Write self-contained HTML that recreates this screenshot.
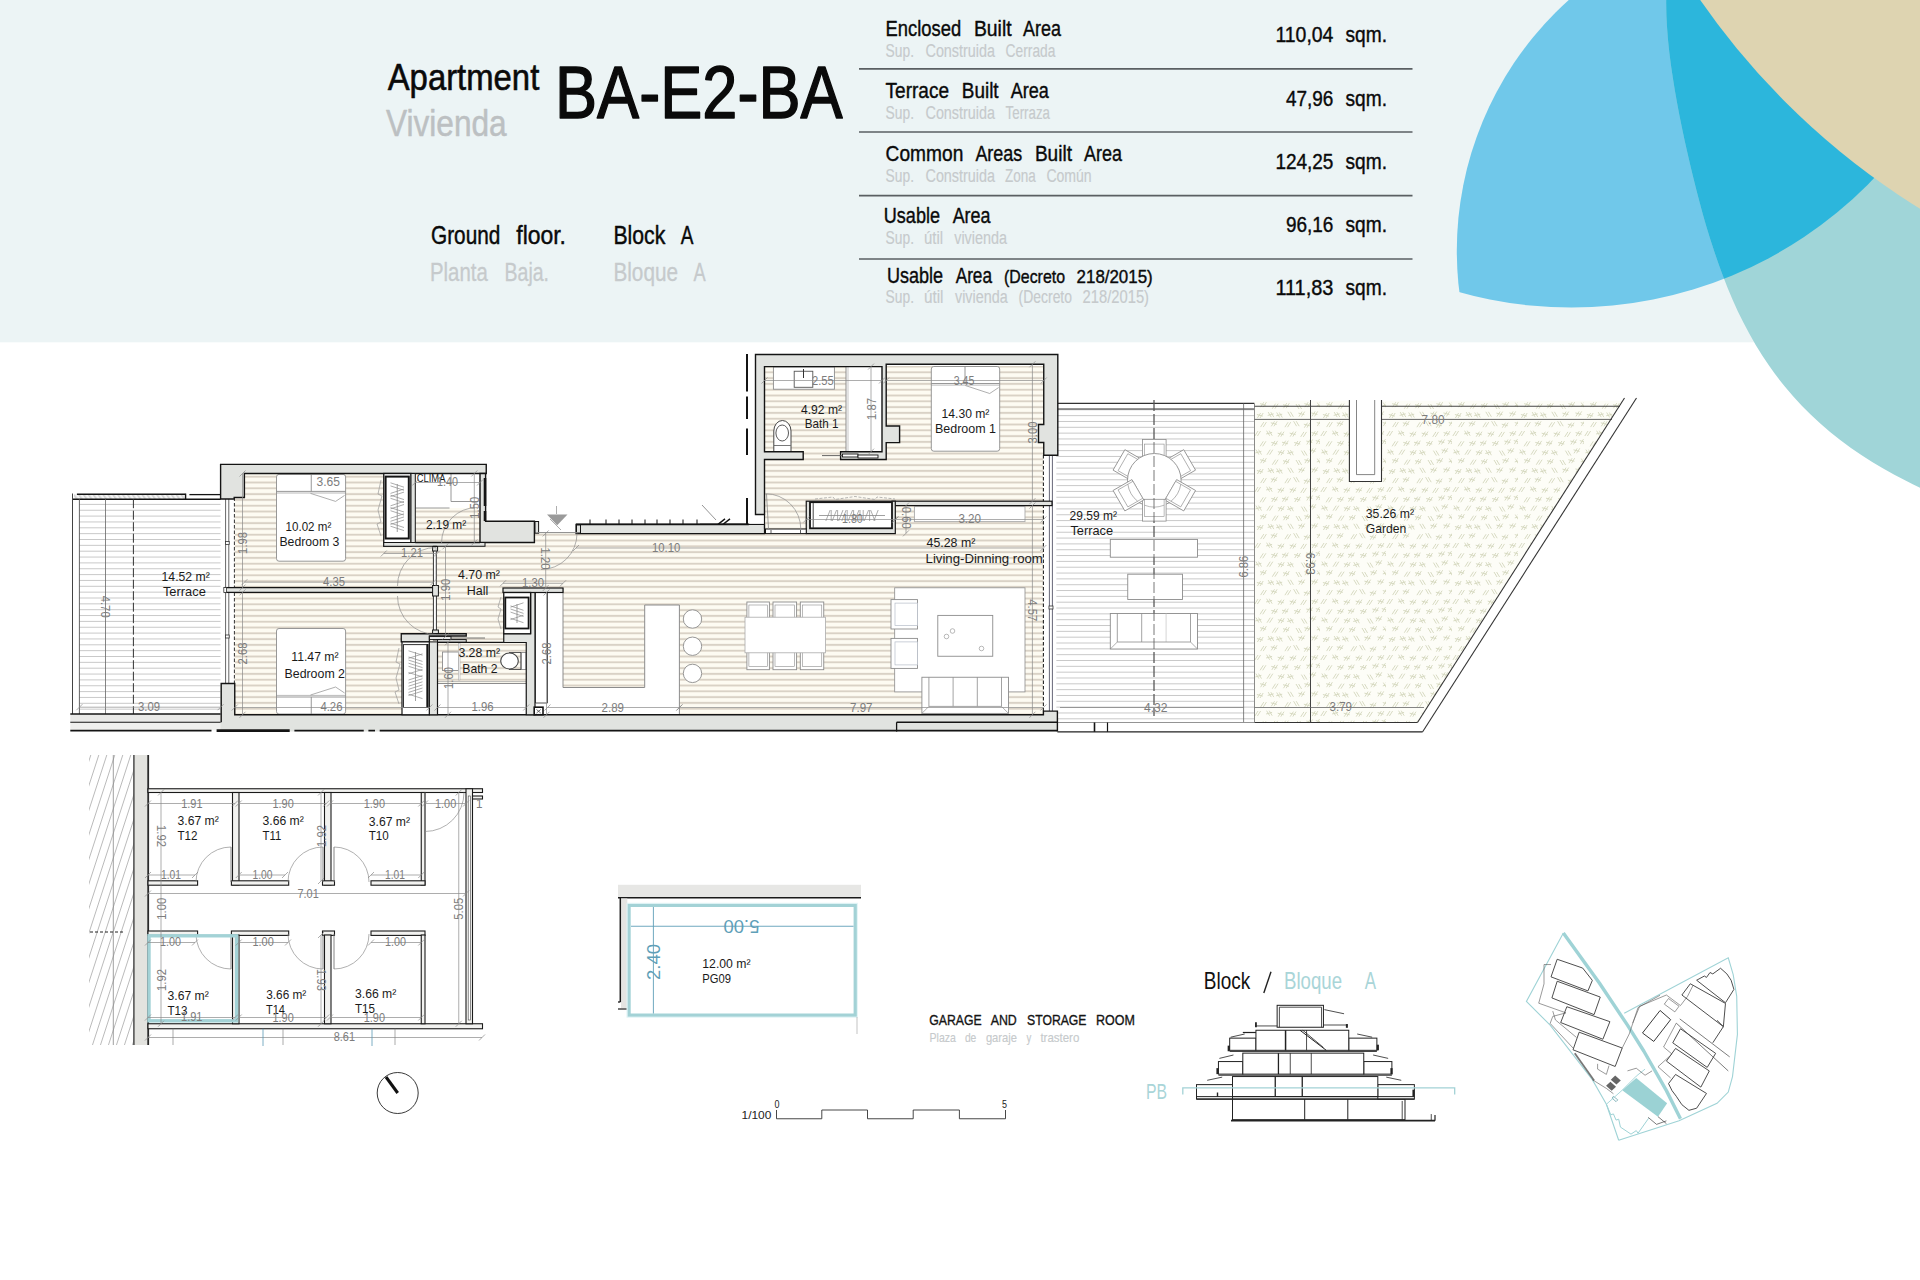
<!DOCTYPE html>
<html><head><meta charset="utf-8"><title>BA-E2-BA</title>
<style>
html,body{margin:0;padding:0;background:#fff;}
body{width:1920px;height:1280px;overflow:hidden;font-family:"Liberation Sans",sans-serif;}
svg{display:block}
svg text{font-family:"Liberation Sans",sans-serif;}
</style></head><body>
<svg width="1920" height="1280" viewBox="0 0 1920 1280">
<rect x="0" y="0" width="1920" height="342.3" fill="#ecf4f5" stroke="none" stroke-width="1" />
<defs><clipPath id="c1"><circle cx="1793.9" cy="250.9" r="337.1"/></clipPath><clipPath id="c2"><circle cx="1571.5" cy="-111" r="418.6"/></clipPath></defs>
<g clip-path="url(#c1)"><circle cx="1571.5" cy="-111" r="418.6" fill="#70c8ea"/></g>
<path d="M1667.6 -26.4 C1667.37 -21.9 1666.3 -8.25 1666.2 0.6 C1666.1 9.45 1666.48 18.1 1667 26.7 C1667.52 35.3 1668.33 43.75 1669.3 52.2 C1670.27 60.65 1671.52 69.03 1672.8 77.4 C1674.08 85.77 1675.48 94.07 1677 102.4 C1678.52 110.73 1680.18 119.08 1681.9 127.4 C1683.62 135.72 1685.42 143.98 1687.3 152.3 C1689.18 160.62 1691.15 168.98 1693.2 177.3 C1695.25 185.62 1697.38 193.92 1699.6 202.2 C1701.82 210.48 1704.05 218.78 1706.5 227 C1708.95 235.22 1711.57 243.37 1714.3 251.5 C1717.03 259.63 1719.87 267.8 1722.9 275.8 C1725.93 283.8 1729.08 291.7 1732.5 299.5 C1735.92 307.3 1739.53 315.03 1743.4 322.6 C1747.27 330.17 1751.35 337.62 1755.7 344.9 C1760.05 352.18 1764.65 359.35 1769.5 366.3 C1774.35 373.25 1779.42 380.03 1784.8 386.6 C1790.18 393.17 1795.88 399.55 1801.8 405.7 C1807.72 411.85 1813.9 417.8 1820.3 423.5 C1826.7 429.2 1833.37 434.67 1840.2 439.9 C1847.03 445.13 1854.13 450.15 1861.3 454.9 C1868.47 459.65 1875.83 464.12 1883.2 468.4 C1890.57 472.68 1898.1 476.77 1905.5 480.6 C1912.9 484.43 1920.42 487.97 1927.6 491.4 C1934.78 494.83 1945.1 499.57 1948.6 501.2 L1950 -25 Z" fill="#a0d5d8" stroke="none" stroke-width="1" />
<g clip-path="url(#c1)"><g clip-path="url(#c2)"><path d="M1667.6 -26.4 C1667.37 -21.9 1666.3 -8.25 1666.2 0.6 C1666.1 9.45 1666.48 18.1 1667 26.7 C1667.52 35.3 1668.33 43.75 1669.3 52.2 C1670.27 60.65 1671.52 69.03 1672.8 77.4 C1674.08 85.77 1675.48 94.07 1677 102.4 C1678.52 110.73 1680.18 119.08 1681.9 127.4 C1683.62 135.72 1685.42 143.98 1687.3 152.3 C1689.18 160.62 1691.15 168.98 1693.2 177.3 C1695.25 185.62 1697.38 193.92 1699.6 202.2 C1701.82 210.48 1704.05 218.78 1706.5 227 C1708.95 235.22 1711.57 243.37 1714.3 251.5 C1717.03 259.63 1719.87 267.8 1722.9 275.8 C1725.93 283.8 1729.08 291.7 1732.5 299.5 C1735.92 307.3 1739.53 315.03 1743.4 322.6 C1747.27 330.17 1751.35 337.62 1755.7 344.9 C1760.05 352.18 1764.65 359.35 1769.5 366.3 C1774.35 373.25 1779.42 380.03 1784.8 386.6 C1790.18 393.17 1795.88 399.55 1801.8 405.7 C1807.72 411.85 1813.9 417.8 1820.3 423.5 C1826.7 429.2 1833.37 434.67 1840.2 439.9 C1847.03 445.13 1854.13 450.15 1861.3 454.9 C1868.47 459.65 1875.83 464.12 1883.2 468.4 C1890.57 472.68 1898.1 476.77 1905.5 480.6 C1912.9 484.43 1920.42 487.97 1927.6 491.4 C1934.78 494.83 1945.1 499.57 1948.6 501.2 L1950 -25 Z" fill="#2cb6dc"/></g></g>
<circle cx="2311.2" cy="-423.3" r="743.3" fill="#ded4b1" stroke="none" stroke-width="1" />
<text x="387.7" y="90" font-size="37" fill="#0a0a0a" textLength="151.6" lengthAdjust="spacingAndGlyphs"  stroke="#0a0a0a" stroke-width="0.6" stroke-linejoin="round">Apartment</text>
<text x="386" y="135.8" font-size="37" fill="#bcc0c2" textLength="120.7" lengthAdjust="spacingAndGlyphs"  stroke="#bcc0c2" stroke-width="0.5" stroke-linejoin="round">Vivienda</text>
<text x="555" y="117.6" font-size="74.5" fill="#0a0a0a" textLength="287.6" lengthAdjust="spacingAndGlyphs"  stroke="#0a0a0a" stroke-width="1.5" stroke-linejoin="round">BA-E2-BA</text>
<text x="431" y="243.5" font-size="26.5" fill="#0a0a0a" textLength="69.3" lengthAdjust="spacingAndGlyphs"  stroke="#0a0a0a" stroke-width="0.45" stroke-linejoin="round">Ground</text>
<text x="516.25" y="243.5" font-size="26.5" fill="#0a0a0a" textLength="49.75" lengthAdjust="spacingAndGlyphs"  stroke="#0a0a0a" stroke-width="0.45" stroke-linejoin="round">floor.</text>
<text x="430" y="281.2" font-size="26.5" fill="#c6cacc" textLength="57.75" lengthAdjust="spacingAndGlyphs"  stroke="#c6cacc" stroke-width="0.3" stroke-linejoin="round">Planta</text>
<text x="504.6" y="281.2" font-size="26.5" fill="#c6cacc" textLength="44.4" lengthAdjust="spacingAndGlyphs"  stroke="#c6cacc" stroke-width="0.3" stroke-linejoin="round">Baja.</text>
<text x="613.4" y="243.5" font-size="26.5" fill="#0a0a0a" textLength="51.9" lengthAdjust="spacingAndGlyphs"  stroke="#0a0a0a" stroke-width="0.45" stroke-linejoin="round">Block</text>
<text x="680.7" y="243.5" font-size="26.5" fill="#0a0a0a" textLength="12.7" lengthAdjust="spacingAndGlyphs"  stroke="#0a0a0a" stroke-width="0.45" stroke-linejoin="round">A</text>
<text x="613.4" y="281.2" font-size="26.5" fill="#c6cacc" textLength="64.6" lengthAdjust="spacingAndGlyphs"  stroke="#c6cacc" stroke-width="0.3" stroke-linejoin="round">Bloque</text>
<text x="693.4" y="281.2" font-size="26.5" fill="#c6cacc" textLength="12.2" lengthAdjust="spacingAndGlyphs"  stroke="#c6cacc" stroke-width="0.3" stroke-linejoin="round">A</text>
<text x="885.6" y="36.25" font-size="22" fill="#0a0a0a" textLength="75.6" lengthAdjust="spacingAndGlyphs"  stroke="#0a0a0a" stroke-width="0.4" stroke-linejoin="round">Enclosed</text>
<text x="973.9" y="36.25" font-size="22" fill="#0a0a0a" textLength="37.7" lengthAdjust="spacingAndGlyphs"  stroke="#0a0a0a" stroke-width="0.4" stroke-linejoin="round">Built</text>
<text x="1023" y="36.25" font-size="22" fill="#0a0a0a" textLength="37.9" lengthAdjust="spacingAndGlyphs"  stroke="#0a0a0a" stroke-width="0.4" stroke-linejoin="round">Area</text>
<text x="885.6" y="56.8" font-size="18" fill="#c6cacc" textLength="28.4" lengthAdjust="spacingAndGlyphs"  stroke="#c6cacc" stroke-width="0.15" stroke-linejoin="round">Sup.</text>
<text x="925.5" y="56.8" font-size="18" fill="#c6cacc" textLength="69.5" lengthAdjust="spacingAndGlyphs"  stroke="#c6cacc" stroke-width="0.15" stroke-linejoin="round">Construida</text>
<text x="1005.6" y="56.8" font-size="18" fill="#c6cacc" textLength="49.8" lengthAdjust="spacingAndGlyphs"  stroke="#c6cacc" stroke-width="0.15" stroke-linejoin="round">Cerrada</text>
<text x="885.6" y="98.2" font-size="22" fill="#0a0a0a" textLength="63.4" lengthAdjust="spacingAndGlyphs"  stroke="#0a0a0a" stroke-width="0.4" stroke-linejoin="round">Terrace</text>
<text x="961.8" y="98.2" font-size="22" fill="#0a0a0a" textLength="36.8" lengthAdjust="spacingAndGlyphs"  stroke="#0a0a0a" stroke-width="0.4" stroke-linejoin="round">Built</text>
<text x="1010.7" y="98.2" font-size="22" fill="#0a0a0a" textLength="38.1" lengthAdjust="spacingAndGlyphs"  stroke="#0a0a0a" stroke-width="0.4" stroke-linejoin="round">Area</text>
<text x="885.6" y="119.3" font-size="18" fill="#c6cacc" textLength="28.4" lengthAdjust="spacingAndGlyphs"  stroke="#c6cacc" stroke-width="0.15" stroke-linejoin="round">Sup.</text>
<text x="925.5" y="119.3" font-size="18" fill="#c6cacc" textLength="69.5" lengthAdjust="spacingAndGlyphs"  stroke="#c6cacc" stroke-width="0.15" stroke-linejoin="round">Construida</text>
<text x="1005.6" y="119.3" font-size="18" fill="#c6cacc" textLength="44.4" lengthAdjust="spacingAndGlyphs"  stroke="#c6cacc" stroke-width="0.15" stroke-linejoin="round">Terraza</text>
<text x="885.6" y="161.1" font-size="22" fill="#0a0a0a" textLength="77.7" lengthAdjust="spacingAndGlyphs"  stroke="#0a0a0a" stroke-width="0.4" stroke-linejoin="round">Common</text>
<text x="975.4" y="161.1" font-size="22" fill="#0a0a0a" textLength="46.8" lengthAdjust="spacingAndGlyphs"  stroke="#0a0a0a" stroke-width="0.4" stroke-linejoin="round">Areas</text>
<text x="1034.9" y="161.1" font-size="22" fill="#0a0a0a" textLength="37.1" lengthAdjust="spacingAndGlyphs"  stroke="#0a0a0a" stroke-width="0.4" stroke-linejoin="round">Built</text>
<text x="1084" y="161.1" font-size="22" fill="#0a0a0a" textLength="37.9" lengthAdjust="spacingAndGlyphs"  stroke="#0a0a0a" stroke-width="0.4" stroke-linejoin="round">Area</text>
<text x="885.6" y="181.7" font-size="18" fill="#c6cacc" textLength="28.4" lengthAdjust="spacingAndGlyphs"  stroke="#c6cacc" stroke-width="0.15" stroke-linejoin="round">Sup.</text>
<text x="925.5" y="181.7" font-size="18" fill="#c6cacc" textLength="69.5" lengthAdjust="spacingAndGlyphs"  stroke="#c6cacc" stroke-width="0.15" stroke-linejoin="round">Construida</text>
<text x="1005" y="181.7" font-size="18" fill="#c6cacc" textLength="30.8" lengthAdjust="spacingAndGlyphs"  stroke="#c6cacc" stroke-width="0.15" stroke-linejoin="round">Zona</text>
<text x="1046.4" y="181.7" font-size="18" fill="#c6cacc" textLength="45.3" lengthAdjust="spacingAndGlyphs"  stroke="#c6cacc" stroke-width="0.15" stroke-linejoin="round">Común</text>
<text x="883.8" y="223.4" font-size="22" fill="#0a0a0a" textLength="56.2" lengthAdjust="spacingAndGlyphs"  stroke="#0a0a0a" stroke-width="0.4" stroke-linejoin="round">Usable</text>
<text x="952.7" y="223.4" font-size="22" fill="#0a0a0a" textLength="37.8" lengthAdjust="spacingAndGlyphs"  stroke="#0a0a0a" stroke-width="0.4" stroke-linejoin="round">Area</text>
<text x="885.6" y="244.2" font-size="18" fill="#c6cacc" textLength="28.4" lengthAdjust="spacingAndGlyphs"  stroke="#c6cacc" stroke-width="0.15" stroke-linejoin="round">Sup.</text>
<text x="924" y="244.2" font-size="18" fill="#c6cacc" textLength="19" lengthAdjust="spacingAndGlyphs"  stroke="#c6cacc" stroke-width="0.15" stroke-linejoin="round">útil</text>
<text x="954.2" y="244.2" font-size="18" fill="#c6cacc" textLength="52.8" lengthAdjust="spacingAndGlyphs"  stroke="#c6cacc" stroke-width="0.15" stroke-linejoin="round">vivienda</text>
<text x="886.9" y="282.6" font-size="22" fill="#0a0a0a" textLength="56.1" lengthAdjust="spacingAndGlyphs"  stroke="#0a0a0a" stroke-width="0.4" stroke-linejoin="round">Usable</text>
<text x="955.7" y="282.6" font-size="22" fill="#0a0a0a" textLength="36.3" lengthAdjust="spacingAndGlyphs"  stroke="#0a0a0a" stroke-width="0.4" stroke-linejoin="round">Area</text>
<text x="1004" y="282.6" font-size="19" fill="#0a0a0a" textLength="61" lengthAdjust="spacingAndGlyphs"  stroke="#0a0a0a" stroke-width="0.4" stroke-linejoin="round">(Decreto</text>
<text x="1076.6" y="282.6" font-size="19" fill="#0a0a0a" textLength="76.1" lengthAdjust="spacingAndGlyphs"  stroke="#0a0a0a" stroke-width="0.4" stroke-linejoin="round">218/2015)</text>
<text x="885.6" y="303" font-size="18" fill="#c6cacc" textLength="28.4" lengthAdjust="spacingAndGlyphs"  stroke="#c6cacc" stroke-width="0.15" stroke-linejoin="round">Sup.</text>
<text x="924" y="303" font-size="18" fill="#c6cacc" textLength="19.5" lengthAdjust="spacingAndGlyphs"  stroke="#c6cacc" stroke-width="0.15" stroke-linejoin="round">útil</text>
<text x="955" y="303" font-size="18" fill="#c6cacc" textLength="52.7" lengthAdjust="spacingAndGlyphs"  stroke="#c6cacc" stroke-width="0.15" stroke-linejoin="round">vivienda</text>
<text x="1018.6" y="303" font-size="18" fill="#c6cacc" textLength="53.4" lengthAdjust="spacingAndGlyphs"  stroke="#c6cacc" stroke-width="0.15" stroke-linejoin="round">(Decreto</text>
<text x="1082.6" y="303" font-size="18" fill="#c6cacc" textLength="66.4" lengthAdjust="spacingAndGlyphs"  stroke="#c6cacc" stroke-width="0.15" stroke-linejoin="round">218/2015)</text>
<line x1="859" y1="68.9" x2="1412.5" y2="68.9" stroke="#5a5f62" stroke-width="1.6" />
<line x1="859" y1="132" x2="1412.5" y2="132" stroke="#5a5f62" stroke-width="1.6" />
<line x1="859" y1="195.6" x2="1412.5" y2="195.6" stroke="#5a5f62" stroke-width="1.6" />
<line x1="859" y1="259" x2="1412.5" y2="259" stroke="#5a5f62" stroke-width="1.6" />
<text x="1275.4" y="42.3" font-size="22" fill="#0a0a0a" textLength="58" lengthAdjust="spacingAndGlyphs"  stroke="#0a0a0a" stroke-width="0.4" stroke-linejoin="round">110,04</text>
<text x="1345.5" y="42.3" font-size="22" fill="#0a0a0a" textLength="41.5" lengthAdjust="spacingAndGlyphs"  stroke="#0a0a0a" stroke-width="0.4" stroke-linejoin="round">sqm.</text>
<text x="1286" y="105.7" font-size="22" fill="#0a0a0a" textLength="47.4" lengthAdjust="spacingAndGlyphs"  stroke="#0a0a0a" stroke-width="0.4" stroke-linejoin="round">47,96</text>
<text x="1345.5" y="105.7" font-size="22" fill="#0a0a0a" textLength="41.5" lengthAdjust="spacingAndGlyphs"  stroke="#0a0a0a" stroke-width="0.4" stroke-linejoin="round">sqm.</text>
<text x="1275.4" y="168.7" font-size="22" fill="#0a0a0a" textLength="58" lengthAdjust="spacingAndGlyphs"  stroke="#0a0a0a" stroke-width="0.4" stroke-linejoin="round">124,25</text>
<text x="1345.5" y="168.7" font-size="22" fill="#0a0a0a" textLength="41.5" lengthAdjust="spacingAndGlyphs"  stroke="#0a0a0a" stroke-width="0.4" stroke-linejoin="round">sqm.</text>
<text x="1286" y="232" font-size="22" fill="#0a0a0a" textLength="47.4" lengthAdjust="spacingAndGlyphs"  stroke="#0a0a0a" stroke-width="0.4" stroke-linejoin="round">96,16</text>
<text x="1345.5" y="232" font-size="22" fill="#0a0a0a" textLength="41.5" lengthAdjust="spacingAndGlyphs"  stroke="#0a0a0a" stroke-width="0.4" stroke-linejoin="round">sqm.</text>
<text x="1275.4" y="295" font-size="22" fill="#0a0a0a" textLength="58" lengthAdjust="spacingAndGlyphs"  stroke="#0a0a0a" stroke-width="0.4" stroke-linejoin="round">111,83</text>
<text x="1345.5" y="295" font-size="22" fill="#0a0a0a" textLength="41.5" lengthAdjust="spacingAndGlyphs"  stroke="#0a0a0a" stroke-width="0.4" stroke-linejoin="round">sqm.</text>
<defs><clipPath id="fl"><rect x="234.4" y="473.5" width="251.6" height="241.25"/><rect x="486" y="533.3" width="557.4000000000001" height="181.45000000000005"/><rect x="764.5" y="366" width="278.9000000000001" height="167.29999999999995"/></clipPath></defs>
<g clip-path="url(#fl)">
<rect x="230" y="360" width="820" height="360" fill="#fdfbf2" stroke="none" stroke-width="1" />
<path d="M230 360.7H1050M230 366.5H1050M230 372.3H1050M230 378.1H1050M230 383.9H1050M230 389.7H1050M230 395.5H1050M230 401.3H1050M230 407.1H1050M230 412.9H1050M230 418.7H1050M230 424.5H1050M230 430.3H1050M230 436.1H1050M230 441.9H1050M230 447.7H1050M230 453.5H1050M230 459.3H1050M230 465.1H1050M230 470.9H1050M230 476.7H1050M230 482.5H1050M230 488.3H1050M230 494.1H1050M230 499.9H1050M230 505.7H1050M230 511.5H1050M230 517.3H1050M230 523.1H1050M230 528.9H1050M230 534.7H1050M230 540.5H1050M230 546.3H1050M230 552.1H1050M230 557.9H1050M230 563.7H1050M230 569.5H1050M230 575.3H1050M230 581.1H1050M230 586.9H1050M230 592.7H1050M230 598.5H1050M230 604.3H1050M230 610.1H1050M230 615.9H1050M230 621.7H1050M230 627.5H1050M230 633.3H1050M230 639.1H1050M230 644.9H1050M230 650.7H1050M230 656.5H1050M230 662.3H1050M230 668.1H1050M230 673.9H1050M230 679.7H1050M230 685.5H1050M230 691.3H1050M230 697.1H1050M230 702.9H1050M230 708.7H1050M230 714.5H1050" fill="none" stroke="#f4efe5" stroke-width="2.8" />
<path d="M230 360.7H1050M230 366.5H1050M230 372.3H1050M230 378.1H1050M230 383.9H1050M230 389.7H1050M230 395.5H1050M230 401.3H1050M230 407.1H1050M230 412.9H1050M230 418.7H1050M230 424.5H1050M230 430.3H1050M230 436.1H1050M230 441.9H1050M230 447.7H1050M230 453.5H1050M230 459.3H1050M230 465.1H1050M230 470.9H1050M230 476.7H1050M230 482.5H1050M230 488.3H1050M230 494.1H1050M230 499.9H1050M230 505.7H1050M230 511.5H1050M230 517.3H1050M230 523.1H1050M230 528.9H1050M230 534.7H1050M230 540.5H1050M230 546.3H1050M230 552.1H1050M230 557.9H1050M230 563.7H1050M230 569.5H1050M230 575.3H1050M230 581.1H1050M230 586.9H1050M230 592.7H1050M230 598.5H1050M230 604.3H1050M230 610.1H1050M230 615.9H1050M230 621.7H1050M230 627.5H1050M230 633.3H1050M230 639.1H1050M230 644.9H1050M230 650.7H1050M230 656.5H1050M230 662.3H1050M230 668.1H1050M230 673.9H1050M230 679.7H1050M230 685.5H1050M230 691.3H1050M230 697.1H1050M230 702.9H1050M230 708.7H1050M230 714.5H1050" fill="none" stroke="#d9d2c6" stroke-width="1.6" />
</g>
<rect x="72.5" y="499.2" width="148.1" height="214.8" fill="#fff" stroke="none" stroke-width="1" />
<path d="M79.4 504.4H220.6M79.4 510.25H220.6M79.4 516.1H220.6M79.4 521.95H220.6M79.4 527.8H220.6M79.4 533.65H220.6M79.4 539.5H220.6M79.4 545.35H220.6M79.4 551.2H220.6M79.4 557.05H220.6M79.4 562.9H220.6M79.4 568.75H220.6M79.4 574.6H220.6M79.4 580.45H220.6M79.4 586.3H220.6M79.4 592.15H220.6M79.4 598H220.6M79.4 603.85H220.6M79.4 609.7H220.6M79.4 615.55H220.6M79.4 621.4H220.6M79.4 627.25H220.6M79.4 633.1H220.6M79.4 638.95H220.6M79.4 644.8H220.6M79.4 650.65H220.6M79.4 656.5H220.6M79.4 662.35H220.6M79.4 668.2H220.6M79.4 674.05H220.6M79.4 679.9H220.6M79.4 685.75H220.6M79.4 691.6H220.6M79.4 697.45H220.6M79.4 703.3H220.6M79.4 709.15H220.6" fill="none" stroke="#c9c9c9" stroke-width="1" />
<defs><pattern id="hat" width="4" height="4" patternUnits="userSpaceOnUse" patternTransform="rotate(-35)"><rect width="4" height="4" fill="#f4f4f4"/><rect width="1.6" height="4" fill="#d2d2d2"/></pattern><pattern id="hat2" width="9" height="9" patternUnits="userSpaceOnUse" patternTransform="rotate(25)"><rect width="9" height="9" fill="#fff"/><rect width="0.9" height="9" fill="#9a9a9a"/></pattern></defs>
<rect x="74" y="494.3" width="111" height="4.9" fill="url(#hat)" stroke="none" stroke-width="1" />
<line x1="76.9" y1="494.3" x2="185.6" y2="494.3" stroke="#141414" stroke-width="1.4" />
<line x1="185.6" y1="493.6" x2="185.6" y2="499.2" stroke="#141414" stroke-width="1.4" />
<line x1="189.4" y1="494.6" x2="220.6" y2="494.6" stroke="#141414" stroke-width="1.3" />
<line x1="72.2" y1="499.25" x2="220.6" y2="499.25" stroke="#141414" stroke-width="1.5" />
<line x1="72.5" y1="493.5" x2="72.5" y2="722" stroke="#444" stroke-width="1" />
<line x1="79.4" y1="499.2" x2="79.4" y2="714" stroke="#555" stroke-width="0.9" />
<line x1="105.5" y1="499.2" x2="105.5" y2="714" stroke="#666" stroke-width="0.8" />
<line x1="133.4" y1="499.2" x2="133.4" y2="714" stroke="#333" stroke-width="1" stroke-dasharray="9 2.5"/>
<rect x="70.3" y="714" width="150.9" height="8.25" fill="#e9e9e7" stroke="none" stroke-width="1" />
<rect x="70.3" y="722.25" width="150.9" height="8.05" fill="#efefed" stroke="none" stroke-width="1" />
<line x1="70.3" y1="714" x2="221.2" y2="714" stroke="#141414" stroke-width="1.3" />
<line x1="70.3" y1="722.25" x2="221.2" y2="722.25" stroke="#141414" stroke-width="1.2" />
<rect x="1056.2" y="403.4" width="198.4" height="319.1" fill="#fff" stroke="none" stroke-width="1" />
<path d="M1056.2 409.81H1254.6M1056.2 415.64H1254.6M1056.2 421.47H1254.6M1056.2 427.3H1254.6M1056.2 433.13H1254.6M1056.2 438.96H1254.6M1056.2 444.79H1254.6M1056.2 450.62H1254.6M1056.2 456.45H1254.6M1056.2 462.28H1254.6M1056.2 468.11H1254.6M1056.2 473.94H1254.6M1056.2 479.77H1254.6M1056.2 485.6H1254.6M1056.2 491.43H1254.6M1056.2 497.26H1254.6M1056.2 503.09H1254.6M1056.2 508.92H1254.6M1056.2 514.75H1254.6M1056.2 520.58H1254.6M1056.2 526.41H1254.6M1056.2 532.24H1254.6M1056.2 538.07H1254.6M1056.2 543.9H1254.6M1056.2 549.73H1254.6M1056.2 555.56H1254.6M1056.2 561.39H1254.6M1056.2 567.22H1254.6M1056.2 573.05H1254.6M1056.2 578.88H1254.6M1056.2 584.71H1254.6M1056.2 590.54H1254.6M1056.2 596.37H1254.6M1056.2 602.2H1254.6M1056.2 608.03H1254.6M1056.2 613.86H1254.6M1056.2 619.69H1254.6M1056.2 625.52H1254.6M1056.2 631.35H1254.6M1056.2 637.18H1254.6M1056.2 643.01H1254.6M1056.2 648.84H1254.6M1056.2 654.67H1254.6M1056.2 660.5H1254.6M1056.2 666.33H1254.6M1056.2 672.16H1254.6M1056.2 677.99H1254.6M1056.2 683.82H1254.6M1056.2 689.65H1254.6M1056.2 695.48H1254.6M1056.2 701.31H1254.6M1056.2 707.14H1254.6M1056.2 712.97H1254.6M1056.2 718.8H1254.6" fill="none" stroke="#c9c9c9" stroke-width="1" />
<line x1="1057.8" y1="403.4" x2="1254.6" y2="403.4" stroke="#333" stroke-width="1.1" />
<line x1="1057.8" y1="409" x2="1254.6" y2="409" stroke="#333" stroke-width="1.1" />
<line x1="1254.6" y1="403.4" x2="1254.6" y2="722.5" stroke="#333" stroke-width="1.1" />
<line x1="1243.6" y1="403.4" x2="1243.6" y2="722.5" stroke="#666" stroke-width="0.8" />
<line x1="1056.2" y1="722.5" x2="1254.6" y2="722.5" stroke="#888" stroke-width="0.9" />
<line x1="1154" y1="400" x2="1154" y2="716" stroke="#555" stroke-width="0.8" stroke-dasharray="11 3"/>
<defs><pattern id="gr" width="66" height="56" patternUnits="userSpaceOnUse"><rect width="66" height="56" fill="#fdfdf7"/><path d="M4.9 6.6l-3 -5M7.5 6.6l-3 -5M1.4 4.9l6 -1.6M13.0 6.7l3.2 -5M15.6 6.7l3.2 -5M24.4 7.2l3.2 -5M27.0 7.2l3.2 -5M23.9 3.7l6 1.6M36.8 7.2l-3 -5M39.4 7.2l-3 -5M33.3 5.5l6 -1.6M50.4 7.6l-3 -5M53.0 7.6l-3 -5M56.0 5.3l3.2 -5M58.6 5.3l3.2 -5M55.5 1.8l6 1.6M6.6 15.2l3.2 -5M9.2 15.2l3.2 -5M6.1 11.7l6 1.6M18.3 16.7l3.2 -5M20.9 16.7l3.2 -5M29.5 16.2l3.2 -5M32.1 16.2l3.2 -5M29.0 12.7l6 1.6M45.0 17.0l-3 -5M47.6 17.0l-3 -5M50.9 15.2l3.2 -5M53.5 15.2l3.2 -5M50.4 11.7l6 1.6M66.3 15.6l-3 -5M68.9 15.6l-3 -5M62.8 13.9l6 -1.6M3.4 26.0l3.2 -5M6.0 26.0l3.2 -5M2.9 22.5l6 1.6M17.2 25.1l-3 -5M19.8 25.1l-3 -5M13.7 23.4l6 -1.6M25.7 25.5l-3 -5M28.3 25.5l-3 -5M22.2 23.8l6 -1.6M36.8 24.8l-3 -5M39.4 24.8l-3 -5M44.9 24.6l3.2 -5M47.5 24.6l3.2 -5M44.4 21.1l6 1.6M57.9 24.4l3.2 -5M60.5 24.4l3.2 -5M57.4 20.9l6 1.6M6.6 35.1l3.2 -5M9.2 35.1l3.2 -5M17.3 34.3l3.2 -5M19.9 34.3l3.2 -5M16.8 30.8l6 1.6M30.9 35.2l3.2 -5M33.5 35.2l3.2 -5M42.6 34.2l-3 -5M45.2 34.2l-3 -5M50.3 35.7l3.2 -5M52.9 35.7l3.2 -5M49.8 32.2l6 1.6M63.3 34.1l3.2 -5M65.9 34.1l3.2 -5M62.8 30.6l6 1.6M0.8 44.0l3.2 -5M3.4 44.0l3.2 -5M15.6 43.7l-3 -5M18.2 43.7l-3 -5M12.1 42.0l6 -1.6M24.2 44.7l3.2 -5M26.8 44.7l3.2 -5M23.7 41.2l6 1.6M36.2 44.6l3.2 -5M38.8 44.6l3.2 -5M35.7 41.1l6 1.6M46.7 44.9l3.2 -5M49.3 44.9l3.2 -5M58.1 44.1l3.2 -5M60.7 44.1l3.2 -5M57.6 40.6l6 1.6M6.1 54.3l3.2 -5M8.7 54.3l3.2 -5M17.8 53.9l3.2 -5M20.4 53.9l3.2 -5M17.3 50.4l6 1.6M28.5 53.7l3.2 -5M31.1 53.7l3.2 -5M28.0 50.2l6 1.6M40.7 54.0l3.2 -5M43.3 54.0l3.2 -5M40.2 50.5l6 1.6M52.8 52.5l3.2 -5M55.4 52.5l3.2 -5M52.3 49.0l6 1.6M62.3 52.1l3.2 -5M64.9 52.1l3.2 -5M61.8 48.6l6 1.6" stroke="#d2d6bb" stroke-width="0.9" fill="none"/></pattern></defs>
<path d="M1254.6 400.8 L1622.8 400.8 L1417.5 722.5 L1254.6 722.5 Z" fill="url(#gr)" stroke="none" stroke-width="1" />
<line x1="1254.6" y1="406.25" x2="1620" y2="406.25" stroke="#444" stroke-width="1" />
<line x1="1254.6" y1="419.4" x2="1612" y2="419.4" stroke="#555" stroke-width="0.9" />
<line x1="1624.5" y1="398" x2="1417.5" y2="722.5" stroke="#333" stroke-width="1.1" />
<line x1="1636.5" y1="398" x2="1422.5" y2="732" stroke="#333" stroke-width="1.1" />
<line x1="1254.6" y1="722.5" x2="1417.5" y2="722.5" stroke="#333" stroke-width="1.1" />
<line x1="1310.5" y1="400" x2="1310.5" y2="722.5" stroke="#444" stroke-width="1" />
<line x1="1254.6" y1="707.5" x2="1424" y2="707.5" stroke="#666" stroke-width="0.8" />
<line x1="1060" y1="707.5" x2="1243.6" y2="707.5" stroke="#777" stroke-width="0.7" />
<rect x="1349.4" y="400" width="32.1" height="81.5" fill="#fff" stroke="none" stroke-width="1" />
<path d="M1349.4 400V481.5H1381.5V400" fill="none" stroke="#333" stroke-width="1.1" />
<path d="M1356.5 400V474.6H1374.7V400" fill="none" stroke="#666" stroke-width="0.8" />
<rect x="1348" y="396" width="35" height="10" fill="none" stroke="none" stroke-width="1" />
<line x1="1057.4" y1="731.8" x2="1422.5" y2="731.8" stroke="#222" stroke-width="1.3" />
<line x1="1094.5" y1="722.5" x2="1094.5" y2="731.8" stroke="#141414" stroke-width="1.6" />
<line x1="1107.5" y1="722.5" x2="1107.5" y2="731.8" stroke="#141414" stroke-width="1.2" />
<rect x="221" y="497.5" width="13.4" height="186" fill="#fff" stroke="none" stroke-width="1" />
<line x1="225.6" y1="498" x2="225.6" y2="683" stroke="#555" stroke-width="0.9" />
<line x1="228.8" y1="498" x2="228.8" y2="683" stroke="#555" stroke-width="0.9" />
<line x1="234.4" y1="497.5" x2="234.4" y2="588" stroke="#333" stroke-width="1" stroke-dasharray="3.5 2"/>
<line x1="234.4" y1="592.5" x2="234.4" y2="683.5" stroke="#333" stroke-width="1" stroke-dasharray="3.5 2"/>
<rect x="225.4" y="541.5" width="3.8" height="3" fill="#fff" stroke="#333" stroke-width="0.8" />
<rect x="225.4" y="635" width="3.8" height="3" fill="#fff" stroke="#333" stroke-width="0.8" />
<rect x="276.5" y="474.4" width="69.1" height="86.8" fill="#fff" stroke="#8c8c8c" stroke-width="0.9" rx="2.5"/>
<line x1="276.5" y1="491.4" x2="345.6" y2="491.4" stroke="#8c8c8c" stroke-width="0.9" />
<line x1="276.5" y1="493" x2="345.6" y2="493" stroke="#8c8c8c" stroke-width="0.6" />
<line x1="311.25" y1="474.4" x2="311.25" y2="491.4" stroke="#8c8c8c" stroke-width="0.9" />
<path d="M310.5 493.4 L335.6 501.4 L344.6 495.4" fill="none" stroke="#8c8c8c" stroke-width="0.7" />
<rect x="276.5" y="628.5" width="69.1" height="85.5" fill="#fff" stroke="#8c8c8c" stroke-width="0.9" rx="2.5"/>
<line x1="276.5" y1="697" x2="345.6" y2="697" stroke="#8c8c8c" stroke-width="0.9" />
<line x1="276.5" y1="695.4" x2="345.6" y2="695.4" stroke="#8c8c8c" stroke-width="0.6" />
<line x1="311.25" y1="697" x2="311.25" y2="714" stroke="#8c8c8c" stroke-width="0.9" />
<path d="M310.5 695 L335.6 687 L344.6 693" fill="none" stroke="#8c8c8c" stroke-width="0.7" />
<rect x="931.3" y="366.5" width="68.4" height="84.7" fill="#fff" stroke="#8c8c8c" stroke-width="0.9" rx="2.5"/>
<line x1="931.3" y1="383.5" x2="999.7" y2="383.5" stroke="#8c8c8c" stroke-width="0.9" />
<line x1="931.3" y1="385.1" x2="999.7" y2="385.1" stroke="#8c8c8c" stroke-width="0.6" />
<line x1="965" y1="366.5" x2="965" y2="383.5" stroke="#8c8c8c" stroke-width="0.9" />
<path d="M965.3 385.5 L989.7 393.5 L998.7 387.5" fill="none" stroke="#8c8c8c" stroke-width="0.7" />
<rect x="415.5" y="474" width="64.5" height="34" fill="#fff" stroke="none" stroke-width="1" />
<line x1="415.5" y1="508" x2="449.5" y2="508" stroke="#8c8c8c" stroke-width="0.9" />
<path d="M451 474V501.5H478" fill="none" stroke="#8c8c8c" stroke-width="0.9" />
<rect x="437.5" y="683.5" width="88.7" height="31.2" fill="#fff" stroke="none" stroke-width="1" />
<line x1="437.5" y1="683.5" x2="526.2" y2="683.5" stroke="#8c8c8c" stroke-width="1" />
<line x1="437.5" y1="681.6" x2="526.2" y2="681.6" stroke="#8c8c8c" stroke-width="0.6" />
<rect x="442.5" y="652" width="16" height="18.5" fill="#fff" stroke="#8c8c8c" stroke-width="0.9" />
<rect x="458.5" y="643" width="1.5" height="37" fill="#fff" stroke="#aaa" stroke-width="0.6" />
<rect x="521" y="652.5" width="5" height="17" fill="#fff" stroke="#8c8c8c" stroke-width="0.9" />
<ellipse cx="509.5" cy="661" rx="8.8" ry="8" fill="#fff" stroke="#444" stroke-width="1.1"/>
<path d="M509 652.5H521V669.5H509" fill="none" stroke="#444" stroke-width="0.9"/>
<path d="M535 588 L563 588 L563 687.5 L644.7 687.5 L644.7 605 L679.4 605 L679.4 714.7 L535 714.7 Z" fill="#fff" stroke="none" stroke-width="1" />
<path d="M563 588V687.5H644.7V605H679.4V714.7" fill="none" stroke="#8c8c8c" stroke-width="1" />
<path d="M535.5 592.5V703H547.5V592.5" fill="none" stroke="#555" stroke-width="1" />
<circle cx="692.5" cy="619" r="9.2" fill="#fff" stroke="#8c8c8c" stroke-width="0.9" />
<circle cx="692.5" cy="646.25" r="9.2" fill="#fff" stroke="#8c8c8c" stroke-width="0.9" />
<circle cx="692.5" cy="673.4" r="9.2" fill="#fff" stroke="#8c8c8c" stroke-width="0.9" />
<rect x="746.9" y="602" width="22.5" height="18" fill="#fff" stroke="#8c8c8c" stroke-width="0.9" />
<rect x="748.9" y="605" width="18.5" height="15" fill="#fff" stroke="#8c8c8c" stroke-width="0.6" />
<rect x="746.9" y="650" width="22.5" height="19.7" fill="#fff" stroke="#8c8c8c" stroke-width="0.9" />
<rect x="748.9" y="650" width="18.5" height="16.5" fill="#fff" stroke="#8c8c8c" stroke-width="0.6" />
<rect x="773" y="602" width="23.6" height="18" fill="#fff" stroke="#8c8c8c" stroke-width="0.9" />
<rect x="775" y="605" width="19.6" height="15" fill="#fff" stroke="#8c8c8c" stroke-width="0.6" />
<rect x="773" y="650" width="23.6" height="19.7" fill="#fff" stroke="#8c8c8c" stroke-width="0.9" />
<rect x="775" y="650" width="19.6" height="16.5" fill="#fff" stroke="#8c8c8c" stroke-width="0.6" />
<rect x="800.3" y="602" width="23.45" height="18" fill="#fff" stroke="#8c8c8c" stroke-width="0.9" />
<rect x="802.3" y="605" width="19.45" height="15" fill="#fff" stroke="#8c8c8c" stroke-width="0.6" />
<rect x="800.3" y="650" width="23.45" height="19.7" fill="#fff" stroke="#8c8c8c" stroke-width="0.9" />
<rect x="802.3" y="650" width="19.45" height="16.5" fill="#fff" stroke="#8c8c8c" stroke-width="0.6" />
<rect x="745" y="617.2" width="80.6" height="35.6" fill="#fff" stroke="#aaa" stroke-width="0.8" />
<rect x="894.7" y="587.8" width="130.3" height="104.1" fill="#fff" stroke="#8c8c8c" stroke-width="0.8" />
<rect x="891" y="599.6" width="26.5" height="29.4" fill="#fff" stroke="#8c8c8c" stroke-width="0.9" />
<rect x="895" y="603.1" width="22.5" height="22.4" fill="#fff" stroke="#b5bcc8" stroke-width="0.7" />
<rect x="891" y="638.4" width="26.5" height="30" fill="#fff" stroke="#8c8c8c" stroke-width="0.9" />
<rect x="895" y="641.9" width="22.5" height="23" fill="#fff" stroke="#b5bcc8" stroke-width="0.7" />
<rect x="937.8" y="615.4" width="54.95" height="40.85" fill="#fff" stroke="#8c8c8c" stroke-width="0.9" />
<circle cx="952.5" cy="631" r="2.3" fill="none" stroke="#8c8c8c" stroke-width="0.6" />
<circle cx="946.5" cy="636.5" r="2.3" fill="none" stroke="#8c8c8c" stroke-width="0.6" />
<circle cx="981.5" cy="648.5" r="2.3" fill="none" stroke="#8c8c8c" stroke-width="0.6" />
<rect x="921.9" y="677.25" width="86.6" height="36.15" fill="#fff" stroke="#8c8c8c" stroke-width="0.9" />
<line x1="928.9" y1="677.25" x2="928.9" y2="706.4" stroke="#8c8c8c" stroke-width="0.8" />
<line x1="1001.5" y1="677.25" x2="1001.5" y2="706.4" stroke="#8c8c8c" stroke-width="0.8" />
<line x1="953.1" y1="677.25" x2="953.1" y2="706.4" stroke="#8c8c8c" stroke-width="0.8" />
<line x1="977.3" y1="677.25" x2="977.3" y2="706.4" stroke="#8c8c8c" stroke-width="0.8" />
<line x1="928.9" y1="706.4" x2="1001.5" y2="706.4" stroke="#8c8c8c" stroke-width="0.8" />
<line x1="921.9" y1="713.4" x2="928.9" y2="706.4" stroke="#8c8c8c" stroke-width="0.7" />
<line x1="1008.5" y1="713.4" x2="1001.5" y2="706.4" stroke="#8c8c8c" stroke-width="0.7" />
<rect x="914.4" y="506.6" width="110.6" height="15" fill="#fff" stroke="#aaa" stroke-width="0.9" />
<rect x="773.4" y="367" width="61" height="22.2" fill="#fff" stroke="#8c8c8c" stroke-width="0.9" />
<rect x="794.2" y="371.25" width="18.6" height="16.05" fill="#fff" stroke="#555" stroke-width="0.9" />
<line x1="803.5" y1="369" x2="803.5" y2="378" stroke="#333" stroke-width="1" />
<rect x="846" y="367" width="36" height="84.7" fill="#fff" stroke="none" stroke-width="1" />
<line x1="846" y1="367" x2="846" y2="451.7" stroke="#8c8c8c" stroke-width="1" />
<line x1="848" y1="367" x2="848" y2="451.7" stroke="#8c8c8c" stroke-width="0.5" />
<path d="M773.8 451.5V431a8.6 10.5 0 0 1 17.2 0V451.5Z" fill="#fff" stroke="#444" stroke-width="1"/>
<ellipse cx="782.2" cy="433" rx="6.3" ry="8" fill="#fff" stroke="#444" stroke-width="0.9"/>
<line x1="774" y1="445.5" x2="790.8" y2="445.5" stroke="#555" stroke-width="0.8" />
<rect x="1043.4" y="455" width="12.8" height="256" fill="#fff" stroke="none" stroke-width="1" />
<line x1="1049.4" y1="455" x2="1049.4" y2="711" stroke="#556" stroke-width="0.9" />
<line x1="1052.4" y1="455" x2="1052.4" y2="711" stroke="#556" stroke-width="0.9" />
<line x1="1043.4" y1="455" x2="1043.4" y2="711.1" stroke="#222" stroke-width="1.1" stroke-dasharray="3.5 2"/>
<rect x="1049" y="606" width="4" height="3" fill="#fff" stroke="#333" stroke-width="0.8" />
<path d="M220.6 464.4 L486.25 464.4 L486.25 473.5 L244.4 473.5 L244.4 497.5 L234.2 497.5 L234.2 499 L220.6 499 Z" fill="#e1e3e0" stroke="#141414" stroke-width="1.4" />
<path d="M220.6 683.5 L234.75 683.5 L234.75 714.75 L1043.4 714.75 L1043.4 711.1 L1057.4 711.1 L1057.4 731.6 L220.6 731.6 Z" fill="#e1e3e0" stroke="none" stroke-width="1" />
<path d="M221.2 722.25V683.5H234.75V714.75H1043.4V711.1H1057.4V731.6" fill="none" stroke="#141414" stroke-width="1.4" />
<line x1="896.6" y1="722.25" x2="1057.4" y2="722.25" stroke="#141414" stroke-width="1.3" />
<line x1="896.6" y1="722.25" x2="896.6" y2="731.6" stroke="#141414" stroke-width="1.3" />
<line x1="70.3" y1="730.6" x2="211.5" y2="730.6" stroke="#141414" stroke-width="1.7" />
<line x1="216.6" y1="730.6" x2="289.7" y2="730.6" stroke="#141414" stroke-width="2.6" />
<line x1="294.4" y1="730.6" x2="363.75" y2="730.6" stroke="#141414" stroke-width="1.7" />
<line x1="368.4" y1="730.6" x2="375" y2="730.6" stroke="#141414" stroke-width="1.7" />
<line x1="379.7" y1="730.6" x2="1057.4" y2="730.6" stroke="#141414" stroke-width="1.7" />
<path d="M480 473.5 L485.6 473.5 L485.6 521.25 L534.4 521.25 L534.4 542.5 L480 542.5 Z" fill="#e1e3e0" stroke="#141414" stroke-width="1.4" />
<line x1="485" y1="478" x2="485" y2="506" stroke="#141414" stroke-width="2.6" />
<line x1="485" y1="511" x2="485" y2="521" stroke="#141414" stroke-width="2.6" />
<rect x="535" y="521.5" width="3.6" height="11.7" fill="#e1e3e0" stroke="#141414" stroke-width="1" />
<rect x="383.75" y="473.5" width="27.25" height="72.75" fill="#fff" stroke="#141414" stroke-width="1.3" />
<rect x="385.6" y="476.6" width="23.2" height="61.9" fill="#fff" stroke="#141414" stroke-width="2" />
<rect x="383.75" y="542.5" width="101.25" height="3.75" fill="#e1e3e0" stroke="#141414" stroke-width="1" />
<rect x="411" y="473.5" width="4.3" height="69" fill="#e1e3e0" stroke="#141414" stroke-width="1" />
<line x1="415.3" y1="542.5" x2="480" y2="542.5" stroke="#141414" stroke-width="1.3" />
<rect x="225" y="587.6" width="212.6" height="4.8" fill="#e1e3e0" stroke="#141414" stroke-width="1.3" />
<rect x="223.8" y="587.6" width="2.7" height="4.8" fill="#fff" stroke="#333" stroke-width="0.8" />
<rect x="433.4" y="546.25" width="3" height="93.75" fill="#fff" stroke="#333" stroke-width="1" />
<rect x="432.6" y="546.5" width="5" height="4.5" fill="#e1e3e0" stroke="#141414" stroke-width="1" />
<rect x="432.6" y="585.5" width="5.8" height="10.5" fill="#e1e3e0" stroke="#141414" stroke-width="1" />
<rect x="432.6" y="630" width="5.8" height="4" fill="#e1e3e0" stroke="#141414" stroke-width="1" />
<path d="M401.25 633.75 L466.25 633.75 L466.25 636 L429.4 636 L429.4 641.9 L401.25 641.9 Z" fill="#e1e3e0" stroke="#141414" stroke-width="1.3" />
<rect x="429.4" y="636.6" width="21.6" height="2.8" fill="#fff" stroke="#141414" stroke-width="1" />
<rect x="437.5" y="639.6" width="28.75" height="2.7" fill="#e1e3e0" stroke="#141414" stroke-width="1" />
<line x1="451" y1="638" x2="485" y2="638" stroke="#555" stroke-width="0.8" />
<rect x="402" y="641.9" width="27.4" height="72.85" fill="#fff" stroke="#141414" stroke-width="1.2" />
<rect x="403.5" y="644.6" width="23.5" height="62.9" fill="#fff" stroke="#333" stroke-width="1" />
<line x1="427.6" y1="644" x2="427.6" y2="708" stroke="#141414" stroke-width="2" />
<rect x="429.4" y="641.9" width="8.1" height="72.85" fill="#e1e3e0" stroke="#141414" stroke-width="1" />
<path d="M437.5 714.75V642.3H503.75" fill="none" stroke="#141414" stroke-width="1.2" />
<path d="M503.75 633.75 L530.6 633.75 L530.6 592.5 L535 592.5 L535 714.75 L526.25 714.75 L526.25 642.5 L503.75 642.5 Z" fill="#e1e3e0" stroke="#141414" stroke-width="1.2" />
<rect x="503" y="588" width="60" height="4.5" fill="#e1e3e0" stroke="#141414" stroke-width="1.2" />
<rect x="503.75" y="592.5" width="26.85" height="41.25" fill="#fff" stroke="#141414" stroke-width="1.3" />
<rect x="505.3" y="597.5" width="23.3" height="31" fill="#fff" stroke="#141414" stroke-width="1.8" />
<rect x="534.2" y="707.2" width="8.8" height="7.55" fill="#fff" stroke="#141414" stroke-width="1.6" />
<path d="M536.5 709.5l4.2 3.5m0 -3.5l-4.2 3.5" fill="none" stroke="#333" stroke-width="0.7" />
<path d="M576 524.4 L764.5 524.4 L764.5 533.6 L576 533.6 Z" fill="#e1e3e0" stroke="#141414" stroke-width="1.2" />
<rect x="749.5" y="515.2" width="14.5" height="8.4" fill="#fff" stroke="none" stroke-width="1" />
<line x1="576" y1="524.4" x2="748.75" y2="524.4" stroke="#141414" stroke-width="1.6" />
<line x1="590" y1="519.5" x2="590" y2="524.4" stroke="#141414" stroke-width="1" />
<line x1="606" y1="519.5" x2="606" y2="524.4" stroke="#141414" stroke-width="1" />
<line x1="619" y1="519.5" x2="619" y2="524.4" stroke="#141414" stroke-width="1" />
<line x1="632" y1="519.5" x2="632" y2="524.4" stroke="#141414" stroke-width="1" />
<line x1="645" y1="519.5" x2="645" y2="524.4" stroke="#141414" stroke-width="1" />
<line x1="657" y1="519.5" x2="657" y2="524.4" stroke="#141414" stroke-width="1" />
<line x1="670" y1="519.5" x2="670" y2="524.4" stroke="#141414" stroke-width="1" />
<line x1="683" y1="519.5" x2="683" y2="524.4" stroke="#141414" stroke-width="1" />
<line x1="697" y1="519.5" x2="697" y2="524.4" stroke="#141414" stroke-width="1" />
<rect x="576.5" y="525" width="4" height="8" fill="#e1e3e0" stroke="#141414" stroke-width="1" />
<path d="M718 524.4l7 -5.5M723 524.4l7 -5.5" fill="none" stroke="#141414" stroke-width="1.4" />
<line x1="702" y1="505" x2="716" y2="520" stroke="#666" stroke-width="0.7" />
<path d="M755.5 354.5 L1057.8 354.5 L1057.8 455.2 L1043.75 455.2 L1043.75 442.5 L1038.5 442.5 L1038.5 424.5 L1043.75 424.5 L1043.75 364.3 L886.2 364.3 L886.2 426 L899.6 426 L899.6 442.6 L886.2 442.6 L886.2 459.5 L840.6 459.5 L840.6 451.7 L882 451.7 L882 366.6 L764.5 366.6 L764.5 451.7 L803.2 451.7 L803.2 459.5 L764.5 459.5 L764.5 514.5 L755.5 514.5 Z" fill="#e1e3e0" stroke="#141414" stroke-width="1.4" />
<line x1="764.5" y1="514.5" x2="764.5" y2="529" stroke="#141414" stroke-width="1.2" />
<rect x="842.5" y="454" width="15.5" height="3" fill="#fff" stroke="#141414" stroke-width="0.9" />
<rect x="858" y="455" width="20" height="3" fill="#fff" stroke="#141414" stroke-width="0.9" />
<line x1="822" y1="455.6" x2="842.5" y2="455.6" stroke="#555" stroke-width="0.9" />
<rect x="892" y="501.2" width="160" height="4.4" fill="#e1e3e0" stroke="#141414" stroke-width="1.2" />
<rect x="806.25" y="501.2" width="89.05" height="32.4" fill="#e1e3e0" stroke="#141414" stroke-width="1.2" />
<rect x="810" y="502.2" width="82" height="26.1" fill="#fff" stroke="#141414" stroke-width="1.8" />
<line x1="813.2" y1="503" x2="813.2" y2="528" stroke="#333" stroke-width="0.9" />
<rect x="765.5" y="529" width="40.75" height="4.6" fill="#fff" stroke="#141414" stroke-width="1" />
<line x1="771" y1="530" x2="771" y2="533.6" stroke="#333" stroke-width="0.8" />
<line x1="800.5" y1="530" x2="800.5" y2="533.6" stroke="#333" stroke-width="0.8" />
<line x1="747" y1="354" x2="747" y2="391.5" stroke="#141414" stroke-width="2" />
<line x1="747" y1="396.5" x2="747" y2="419" stroke="#141414" stroke-width="2" />
<line x1="747" y1="428.5" x2="747" y2="455" stroke="#141414" stroke-width="2" />
<line x1="747" y1="498" x2="747" y2="524.4" stroke="#141414" stroke-width="2" />
<line x1="700" y1="524.4" x2="748" y2="524.4" stroke="#141414" stroke-width="1.3" />
<path d="M547 514.4 L567.5 514.4 L557.2 525.3 Z" fill="#9a9a9a" stroke="none" stroke-width="1" />
<line x1="556.5" y1="506" x2="556.5" y2="514" stroke="#999" stroke-width="0.8" />
<line x1="550" y1="519" x2="561" y2="530" stroke="#888" stroke-width="0.7" />
<line x1="537.5" y1="532.6" x2="580" y2="532.6" stroke="#888" stroke-width="1" />
<g transform="translate(1154.3 480.3) rotate(0)">
<rect x="-11.8" y="-40.8" width="23.6" height="21.8" fill="#fff" stroke="#8c8c8c" stroke-width="0.8" />
<rect x="-9.8" y="-36.2" width="19.6" height="17.2" fill="#fff" stroke="#8c8c8c" stroke-width="0.6" />
</g>
<g transform="translate(1154.3 480.3) rotate(60)">
<rect x="-11.8" y="-40.8" width="23.6" height="21.8" fill="#fff" stroke="#8c8c8c" stroke-width="0.8" />
<rect x="-9.8" y="-36.2" width="19.6" height="17.2" fill="#fff" stroke="#8c8c8c" stroke-width="0.6" />
</g>
<g transform="translate(1154.3 480.3) rotate(300)">
<rect x="-11.8" y="-40.8" width="23.6" height="21.8" fill="#fff" stroke="#8c8c8c" stroke-width="0.8" />
<rect x="-9.8" y="-36.2" width="19.6" height="17.2" fill="#fff" stroke="#8c8c8c" stroke-width="0.6" />
</g>
<circle cx="1154.3" cy="480.3" r="26.8" fill="#fff" stroke="#8c8c8c" stroke-width="0.9" />
<g transform="translate(1154.3 480.3) rotate(120)">
<rect x="-11.8" y="-40.8" width="23.6" height="21.8" fill="#fff" stroke="#8c8c8c" stroke-width="0.8" />
<rect x="-9.8" y="-36.2" width="19.6" height="17.2" fill="#fff" stroke="#8c8c8c" stroke-width="0.6" />
<path d="M-9.8 -24.9A26.8 26.8 0 0 1 9.8 -24.9" fill="none" stroke="#8c8c8c" stroke-width="0.6" />
</g>
<g transform="translate(1154.3 480.3) rotate(180)">
<rect x="-11.8" y="-40.8" width="23.6" height="21.8" fill="#fff" stroke="#8c8c8c" stroke-width="0.8" />
<rect x="-9.8" y="-36.2" width="19.6" height="17.2" fill="#fff" stroke="#8c8c8c" stroke-width="0.6" />
<path d="M-9.8 -24.9A26.8 26.8 0 0 1 9.8 -24.9" fill="none" stroke="#8c8c8c" stroke-width="0.6" />
</g>
<g transform="translate(1154.3 480.3) rotate(240)">
<rect x="-11.8" y="-40.8" width="23.6" height="21.8" fill="#fff" stroke="#8c8c8c" stroke-width="0.8" />
<rect x="-9.8" y="-36.2" width="19.6" height="17.2" fill="#fff" stroke="#8c8c8c" stroke-width="0.6" />
<path d="M-9.8 -24.9A26.8 26.8 0 0 1 9.8 -24.9" fill="none" stroke="#8c8c8c" stroke-width="0.6" />
</g>
<rect x="1110.3" y="539.4" width="87.2" height="17.8" fill="#fff" stroke="#8c8c8c" stroke-width="0.9" />
<rect x="1127.75" y="574.2" width="54.75" height="25.3" fill="#fff" stroke="#8c8c8c" stroke-width="0.9" />
<rect x="1110.3" y="613.5" width="87.2" height="35.5" fill="#fff" stroke="#8c8c8c" stroke-width="0.9" />
<line x1="1117.3" y1="613.5" x2="1117.3" y2="642" stroke="#8c8c8c" stroke-width="0.8" />
<line x1="1190.5" y1="613.5" x2="1190.5" y2="642" stroke="#8c8c8c" stroke-width="0.8" />
<line x1="1141.7" y1="613.5" x2="1141.7" y2="642" stroke="#8c8c8c" stroke-width="0.8" />
<line x1="1166.1" y1="613.5" x2="1166.1" y2="642" stroke="#ccc" stroke-width="0.8" />
<line x1="1117.3" y1="642" x2="1190.5" y2="642" stroke="#8c8c8c" stroke-width="0.8" />
<line x1="1110.3" y1="649" x2="1117.3" y2="642" stroke="#8c8c8c" stroke-width="0.7" />
<line x1="1197.5" y1="649" x2="1190.5" y2="642" stroke="#8c8c8c" stroke-width="0.7" />
<line x1="1154" y1="400" x2="1154" y2="716" stroke="#555" stroke-width="0.8" stroke-dasharray="11 3"/>
<line x1="397.25" y1="484" x2="397.25" y2="532" stroke="#777" stroke-width="0.7" />
<path d="M390.5 482.8L404 487.2M390.5 485.9L404 490.3M390.5 493.4L404 489M390.5 496.5L404 492.1M390.5 495.2L404 499.6M390.5 498.3L404 502.7M390.5 505.8L404 501.4M390.5 508.9L404 504.5M390.5 507.6L404 512M390.5 510.7L404 515.1M390.5 518.2L404 513.8M390.5 521.3L404 516.9M390.5 524.4L404 520M390.5 523.1L404 527.5M390.5 526.2L404 530.6" fill="none" stroke="#8a8a8a" stroke-width="0.7" />
<line x1="415.5" y1="652" x2="415.5" y2="701" stroke="#777" stroke-width="0.7" />
<path d="M408.5 650.8L422.5 655.2M408.5 658.3L422.5 653.9M408.5 657L422.5 661.4M408.5 660.1L422.5 664.5M408.5 663.2L422.5 667.6M408.5 666.3L422.5 670.7M408.5 673.8L422.5 669.4M408.5 672.5L422.5 676.9M408.5 680L422.5 675.6M408.5 683.1L422.5 678.7M408.5 686.2L422.5 681.8M408.5 689.3L422.5 684.9M408.5 692.4L422.5 688M408.5 695.5L422.5 691.1M408.5 694.2L422.5 698.6" fill="none" stroke="#8a8a8a" stroke-width="0.7" />
<line x1="517" y1="604" x2="517" y2="623" stroke="#777" stroke-width="0.7" />
<path d="M510.5 607.2L523.5 602.8M510.5 605.9L523.5 610.3M510.5 609L523.5 613.4M510.5 612.1L523.5 616.5M510.5 619.6L523.5 615.2M510.5 618.3L523.5 622.7" fill="none" stroke="#8a8a8a" stroke-width="0.7" />
<line x1="819" y1="515.5" x2="885" y2="515.5" stroke="#777" stroke-width="0.7" />
<path d="M830.2 510L825.8 521M831.2 510L831.2 521M836.6 510L832.2 521M837.6 510L837.6 521M843 510L838.6 521M846.2 510L841.8 521M847.2 510L847.2 521M852.6 510L848.2 521M853.6 510L853.6 521M859 510L854.6 521M860 510L860 521M863.2 510L863.2 521M868.6 510L864.2 521M869.6 510L869.6 521M870.6 510L875 521M878.2 510L873.8 521" fill="none" stroke="#8a8a8a" stroke-width="0.7" />
<path d="M381 480l-3 14l4 2l-4 14l3 12l-4 2l4 12" fill="none" stroke="#999" stroke-width="0.7" />
<path d="M399 648l-3 14l4 2l-4 14l3 12l-4 2l4 12" fill="none" stroke="#999" stroke-width="0.7" />
<path d="M501 597l-3 10l3 2l-3 10l3 10" fill="none" stroke="#999" stroke-width="0.7" />
<path d="M815 499l18 -2l2 2.5l20 -3l20 3l2 -2.5l18 2" fill="none" stroke="#999" stroke-width="0.7" stroke-dasharray="3 1.5"/>
<path d="M397.5 586A38.5 38.5 0 0 1 436 547.5" fill="none" stroke="#8e8e8e" stroke-width="0.7" />
<line x1="436" y1="547.5" x2="436" y2="586" stroke="#999" stroke-width="0.6" />
<path d="M397.5 596A38.5 38.5 0 0 0 436 634.5" fill="none" stroke="#8e8e8e" stroke-width="0.7" />
<path d="M441.5 543A35.5 35.5 0 0 1 477 507.5" fill="none" stroke="#8e8e8e" stroke-width="0.7" />
<path d="M577 533.5A36 36 0 0 1 541 569.5" fill="none" stroke="#8e8e8e" stroke-width="0.7" />
<path d="M765.5 493.7A35.3 35.3 0 0 1 800.8 529" fill="none" stroke="#8e8e8e" stroke-width="0.7" />
<line x1="766.5" y1="494" x2="768.5" y2="529" stroke="#888" stroke-width="0.8" />
<line x1="242.5" y1="473.5" x2="242.5" y2="587.6" stroke="#8a8a8a" stroke-width="0.7" />
<line x1="239.5" y1="476.5" x2="245.5" y2="470.5" stroke="#8a8a8a" stroke-width="0.7" />
<line x1="239.5" y1="590.6" x2="245.5" y2="584.6" stroke="#8a8a8a" stroke-width="0.7" />
<line x1="242.5" y1="592.4" x2="242.5" y2="714.75" stroke="#8a8a8a" stroke-width="0.7" />
<line x1="239.5" y1="595.4" x2="245.5" y2="589.4" stroke="#8a8a8a" stroke-width="0.7" />
<line x1="239.5" y1="717.75" x2="245.5" y2="711.75" stroke="#8a8a8a" stroke-width="0.7" />
<line x1="244.4" y1="582.2" x2="433.4" y2="582.2" stroke="#8a8a8a" stroke-width="0.7" />
<line x1="241.4" y1="585.2" x2="247.4" y2="579.2" stroke="#8a8a8a" stroke-width="0.7" />
<line x1="430.4" y1="585.2" x2="436.4" y2="579.2" stroke="#8a8a8a" stroke-width="0.7" />
<line x1="234.75" y1="707.5" x2="429.4" y2="707.5" stroke="#8a8a8a" stroke-width="0.7" />
<line x1="231.75" y1="710.5" x2="237.75" y2="704.5" stroke="#8a8a8a" stroke-width="0.7" />
<line x1="426.4" y1="710.5" x2="432.4" y2="704.5" stroke="#8a8a8a" stroke-width="0.7" />
<line x1="79.4" y1="707.2" x2="220.6" y2="707.2" stroke="#8a8a8a" stroke-width="0.7" />
<line x1="76.4" y1="710.2" x2="82.4" y2="704.2" stroke="#8a8a8a" stroke-width="0.7" />
<line x1="217.6" y1="710.2" x2="223.6" y2="704.2" stroke="#8a8a8a" stroke-width="0.7" />
<line x1="383.75" y1="553.5" x2="437" y2="553.5" stroke="#8a8a8a" stroke-width="0.7" />
<line x1="380.75" y1="556.5" x2="386.75" y2="550.5" stroke="#8a8a8a" stroke-width="0.7" />
<line x1="434" y1="556.5" x2="440" y2="550.5" stroke="#8a8a8a" stroke-width="0.7" />
<line x1="445.5" y1="546.3" x2="445.5" y2="636.5" stroke="#8a8a8a" stroke-width="0.7" />
<line x1="442.5" y1="549.3" x2="448.5" y2="543.3" stroke="#8a8a8a" stroke-width="0.7" />
<line x1="442.5" y1="639.5" x2="448.5" y2="633.5" stroke="#8a8a8a" stroke-width="0.7" />
<line x1="545.7" y1="533.4" x2="545.7" y2="588" stroke="#8a8a8a" stroke-width="0.7" />
<line x1="542.7" y1="536.4" x2="548.7" y2="530.4" stroke="#8a8a8a" stroke-width="0.7" />
<line x1="542.7" y1="591" x2="548.7" y2="585" stroke="#8a8a8a" stroke-width="0.7" />
<line x1="503" y1="583.3" x2="563" y2="583.3" stroke="#8a8a8a" stroke-width="0.7" />
<line x1="500" y1="586.3" x2="506" y2="580.3" stroke="#8a8a8a" stroke-width="0.7" />
<line x1="560" y1="586.3" x2="566" y2="580.3" stroke="#8a8a8a" stroke-width="0.7" />
<line x1="546.5" y1="592.5" x2="546.5" y2="714.75" stroke="#8a8a8a" stroke-width="0.7" />
<line x1="543.5" y1="595.5" x2="549.5" y2="589.5" stroke="#8a8a8a" stroke-width="0.7" />
<line x1="543.5" y1="717.75" x2="549.5" y2="711.75" stroke="#8a8a8a" stroke-width="0.7" />
<line x1="437.5" y1="707.5" x2="526.2" y2="707.5" stroke="#8a8a8a" stroke-width="0.7" />
<line x1="434.5" y1="710.5" x2="440.5" y2="704.5" stroke="#8a8a8a" stroke-width="0.7" />
<line x1="523.2" y1="710.5" x2="529.2" y2="704.5" stroke="#8a8a8a" stroke-width="0.7" />
<line x1="448" y1="642.3" x2="448" y2="714.75" stroke="#8a8a8a" stroke-width="0.7" />
<line x1="445" y1="645.3" x2="451" y2="639.3" stroke="#8a8a8a" stroke-width="0.7" />
<line x1="445" y1="717.75" x2="451" y2="711.75" stroke="#8a8a8a" stroke-width="0.7" />
<line x1="576" y1="548" x2="1043.4" y2="548" stroke="#8a8a8a" stroke-width="0.7" />
<line x1="573" y1="551" x2="579" y2="545" stroke="#8a8a8a" stroke-width="0.7" />
<line x1="1040.4" y1="551" x2="1046.4" y2="545" stroke="#8a8a8a" stroke-width="0.7" />
<line x1="547.5" y1="707.5" x2="679.4" y2="707.5" stroke="#8a8a8a" stroke-width="0.7" />
<line x1="544.5" y1="710.5" x2="550.5" y2="704.5" stroke="#8a8a8a" stroke-width="0.7" />
<line x1="676.4" y1="710.5" x2="682.4" y2="704.5" stroke="#8a8a8a" stroke-width="0.7" />
<line x1="679.4" y1="707.5" x2="1043.4" y2="707.5" stroke="#8a8a8a" stroke-width="0.7" />
<line x1="676.4" y1="710.5" x2="682.4" y2="704.5" stroke="#8a8a8a" stroke-width="0.7" />
<line x1="1040.4" y1="710.5" x2="1046.4" y2="704.5" stroke="#8a8a8a" stroke-width="0.7" />
<line x1="1032.4" y1="505.6" x2="1032.4" y2="714.75" stroke="#8a8a8a" stroke-width="0.7" />
<line x1="1029.4" y1="508.6" x2="1035.4" y2="502.6" stroke="#8a8a8a" stroke-width="0.7" />
<line x1="1029.4" y1="717.75" x2="1035.4" y2="711.75" stroke="#8a8a8a" stroke-width="0.7" />
<line x1="1032.4" y1="364.3" x2="1032.4" y2="501.2" stroke="#8a8a8a" stroke-width="0.7" />
<line x1="1029.4" y1="367.3" x2="1035.4" y2="361.3" stroke="#8a8a8a" stroke-width="0.7" />
<line x1="1029.4" y1="504.2" x2="1035.4" y2="498.2" stroke="#8a8a8a" stroke-width="0.7" />
<line x1="886.2" y1="380.5" x2="1043.75" y2="380.5" stroke="#8a8a8a" stroke-width="0.7" />
<line x1="883.2" y1="383.5" x2="889.2" y2="377.5" stroke="#8a8a8a" stroke-width="0.7" />
<line x1="1040.75" y1="383.5" x2="1046.75" y2="377.5" stroke="#8a8a8a" stroke-width="0.7" />
<line x1="764.5" y1="380.5" x2="882" y2="380.5" stroke="#8a8a8a" stroke-width="0.7" />
<line x1="761.5" y1="383.5" x2="767.5" y2="377.5" stroke="#8a8a8a" stroke-width="0.7" />
<line x1="879" y1="383.5" x2="885" y2="377.5" stroke="#8a8a8a" stroke-width="0.7" />
<line x1="871" y1="366.6" x2="871" y2="451.7" stroke="#8a8a8a" stroke-width="0.7" />
<line x1="868" y1="369.6" x2="874" y2="363.6" stroke="#8a8a8a" stroke-width="0.7" />
<line x1="868" y1="454.7" x2="874" y2="448.7" stroke="#8a8a8a" stroke-width="0.7" />
<line x1="806.25" y1="519.5" x2="895.3" y2="519.5" stroke="#8a8a8a" stroke-width="0.7" />
<line x1="803.25" y1="522.5" x2="809.25" y2="516.5" stroke="#8a8a8a" stroke-width="0.7" />
<line x1="892.3" y1="522.5" x2="898.3" y2="516.5" stroke="#8a8a8a" stroke-width="0.7" />
<line x1="906" y1="505.6" x2="906" y2="533.3" stroke="#8a8a8a" stroke-width="0.7" />
<line x1="903" y1="508.6" x2="909" y2="502.6" stroke="#8a8a8a" stroke-width="0.7" />
<line x1="903" y1="536.3" x2="909" y2="530.3" stroke="#8a8a8a" stroke-width="0.7" />
<line x1="895.3" y1="519.5" x2="1043.4" y2="519.5" stroke="#8a8a8a" stroke-width="0.7" />
<line x1="892.3" y1="522.5" x2="898.3" y2="516.5" stroke="#8a8a8a" stroke-width="0.7" />
<line x1="1040.4" y1="522.5" x2="1046.4" y2="516.5" stroke="#8a8a8a" stroke-width="0.7" />
<line x1="474.3" y1="473.5" x2="474.3" y2="542.5" stroke="#8a8a8a" stroke-width="0.7" />
<line x1="471.3" y1="476.5" x2="477.3" y2="470.5" stroke="#8a8a8a" stroke-width="0.7" />
<line x1="471.3" y1="545.5" x2="477.3" y2="539.5" stroke="#8a8a8a" stroke-width="0.7" />
<line x1="415.3" y1="482.5" x2="480" y2="482.5" stroke="#8a8a8a" stroke-width="0.7" />
<line x1="412.3" y1="485.5" x2="418.3" y2="479.5" stroke="#8a8a8a" stroke-width="0.7" />
<line x1="477" y1="485.5" x2="483" y2="479.5" stroke="#8a8a8a" stroke-width="0.7" />
<text x="161.6" y="580.6" font-size="12.6" fill="#1a1a1a" textLength="48.1" lengthAdjust="spacingAndGlyphs" >14.52 m²</text>
<text x="162.9" y="596.25" font-size="12.6" fill="#1a1a1a" textLength="42.9" lengthAdjust="spacingAndGlyphs" >Terrace</text>
<text x="285.6" y="530.6" font-size="12.6" fill="#1a1a1a" textLength="45.65" lengthAdjust="spacingAndGlyphs" >10.02 m²</text>
<text x="279.4" y="545.6" font-size="12.6" fill="#1a1a1a" textLength="60" lengthAdjust="spacingAndGlyphs" >Bedroom 3</text>
<text x="291.25" y="661.4" font-size="12.6" fill="#1a1a1a" textLength="47.35" lengthAdjust="spacingAndGlyphs" >11.47 m²</text>
<text x="284.5" y="677.5" font-size="12.6" fill="#1a1a1a" textLength="60.5" lengthAdjust="spacingAndGlyphs" >Bedroom 2</text>
<text x="425.9" y="528.5" font-size="12.6" fill="#1a1a1a" textLength="40.35" lengthAdjust="spacingAndGlyphs" >2.19 m²</text>
<text x="458" y="579.3" font-size="12.6" fill="#1a1a1a" textLength="42" lengthAdjust="spacingAndGlyphs" >4.70 m²</text>
<text x="466.8" y="595" font-size="12.6" fill="#1a1a1a" textLength="21.6" lengthAdjust="spacingAndGlyphs" >Hall</text>
<text x="458.4" y="657.4" font-size="12.6" fill="#1a1a1a" textLength="41.6" lengthAdjust="spacingAndGlyphs" >3.28 m²</text>
<text x="462.3" y="673" font-size="12.6" fill="#1a1a1a" textLength="35.2" lengthAdjust="spacingAndGlyphs" >Bath 2</text>
<text x="416.8" y="481.7" font-size="10" fill="#1a1a1a" textLength="28.6" lengthAdjust="spacingAndGlyphs" >CLIMA</text>
<text x="801" y="413.75" font-size="12.6" fill="#1a1a1a" textLength="41" lengthAdjust="spacingAndGlyphs" >4.92 m²</text>
<text x="804.7" y="427.8" font-size="12.6" fill="#1a1a1a" textLength="33.7" lengthAdjust="spacingAndGlyphs" >Bath 1</text>
<text x="941.6" y="418.4" font-size="12.6" fill="#1a1a1a" textLength="47.8" lengthAdjust="spacingAndGlyphs" >14.30 m²</text>
<text x="935" y="433.4" font-size="12.6" fill="#1a1a1a" textLength="61" lengthAdjust="spacingAndGlyphs" >Bedroom 1</text>
<text x="926.6" y="546.9" font-size="12.6" fill="#1a1a1a" textLength="48.7" lengthAdjust="spacingAndGlyphs" >45.28 m²</text>
<text x="925.6" y="562.8" font-size="12.6" fill="#1a1a1a" textLength="117.2" lengthAdjust="spacingAndGlyphs" >Living-Dinning room</text>
<text x="1069.6" y="519.7" font-size="12.6" fill="#1a1a1a" textLength="47.3" lengthAdjust="spacingAndGlyphs" >29.59 m²</text>
<text x="1070.4" y="534.7" font-size="12.6" fill="#1a1a1a" textLength="42.6" lengthAdjust="spacingAndGlyphs" >Terrace</text>
<text x="1365.8" y="518.3" font-size="12.6" fill="#1a1a1a" textLength="48.2" lengthAdjust="spacingAndGlyphs" >35.26 m²</text>
<text x="1365.8" y="533.1" font-size="12.6" fill="#1a1a1a" textLength="40.5" lengthAdjust="spacingAndGlyphs" >Garden</text>
<text x="316.5" y="486.4" font-size="12.5" fill="#7d7d7d" textLength="23.5" lengthAdjust="spacingAndGlyphs" >3.65</text>
<text x="138" y="710.8" font-size="12.5" fill="#7d7d7d" textLength="22" lengthAdjust="spacingAndGlyphs" >3.09</text>
<text x="323" y="585.8" font-size="12.5" fill="#7d7d7d" textLength="22" lengthAdjust="spacingAndGlyphs" >4.35</text>
<text x="320.4" y="711.4" font-size="12.5" fill="#7d7d7d" textLength="22.1" lengthAdjust="spacingAndGlyphs" >4.26</text>
<text x="401" y="557" font-size="12.5" fill="#7d7d7d" textLength="22" lengthAdjust="spacingAndGlyphs" >1.21</text>
<text x="522" y="587" font-size="12.5" fill="#7d7d7d" textLength="22" lengthAdjust="spacingAndGlyphs" >1.30</text>
<text x="471.5" y="711.4" font-size="12.5" fill="#7d7d7d" textLength="22.1" lengthAdjust="spacingAndGlyphs" >1.96</text>
<text x="437" y="486.4" font-size="12.5" fill="#7d7d7d" textLength="21" lengthAdjust="spacingAndGlyphs" >1.40</text>
<text x="652" y="552" font-size="12.5" fill="#7d7d7d" textLength="28.3" lengthAdjust="spacingAndGlyphs" >10.10</text>
<text x="601.6" y="711.5" font-size="12.5" fill="#7d7d7d" textLength="22.4" lengthAdjust="spacingAndGlyphs" >2.89</text>
<text x="850" y="711.5" font-size="12.5" fill="#7d7d7d" textLength="22.5" lengthAdjust="spacingAndGlyphs" >7.97</text>
<text x="812" y="384.7" font-size="12.5" fill="#7d7d7d" textLength="21.75" lengthAdjust="spacingAndGlyphs" >2.55</text>
<text x="953.75" y="384.7" font-size="12.5" fill="#7d7d7d" textLength="20.65" lengthAdjust="spacingAndGlyphs" >3.45</text>
<text x="842" y="523.4" font-size="12.5" fill="#7d7d7d" textLength="20.8" lengthAdjust="spacingAndGlyphs" >1.80</text>
<text x="958.4" y="523.4" font-size="12.5" fill="#7d7d7d" textLength="22.6" lengthAdjust="spacingAndGlyphs" >3.20</text>
<text x="1144" y="711.6" font-size="12.5" fill="#7d7d7d" textLength="23.5" lengthAdjust="spacingAndGlyphs" >4.32</text>
<text x="1421.6" y="423.75" font-size="12.5" fill="#7d7d7d" textLength="22.9" lengthAdjust="spacingAndGlyphs" >7.80</text>
<text x="1329.5" y="711.25" font-size="12.5" fill="#7d7d7d" textLength="22.5" lengthAdjust="spacingAndGlyphs" >3.79</text>
<text transform="translate(242.5 542.9) rotate(-90)" x="-11" y="4.5" font-size="12.5" fill="#7d7d7d" textLength="22" lengthAdjust="spacingAndGlyphs" >1.98</text>
<text transform="translate(242.5 653.5) rotate(-90)" x="-11" y="4.5" font-size="12.5" fill="#7d7d7d" textLength="22" lengthAdjust="spacingAndGlyphs" >2.68</text>
<text transform="translate(105.5 606.7) rotate(90)" x="-11" y="4.5" font-size="12.5" fill="#7d7d7d" textLength="22" lengthAdjust="spacingAndGlyphs" >4.70</text>
<text transform="translate(545.7 558.5) rotate(90)" x="-11" y="4.5" font-size="12.5" fill="#7d7d7d" textLength="22" lengthAdjust="spacingAndGlyphs" >1.20</text>
<text transform="translate(445.5 589.7) rotate(-90)" x="-11" y="4.5" font-size="12.5" fill="#7d7d7d" textLength="22" lengthAdjust="spacingAndGlyphs" >1.90</text>
<text transform="translate(546.5 653.5) rotate(-90)" x="-11" y="4.5" font-size="12.5" fill="#7d7d7d" textLength="22" lengthAdjust="spacingAndGlyphs" >2.68</text>
<text transform="translate(448 678) rotate(-90)" x="-11" y="4.5" font-size="12.5" fill="#7d7d7d" textLength="22" lengthAdjust="spacingAndGlyphs" >1.60</text>
<text transform="translate(474.3 507.7) rotate(-90)" x="-11" y="4.5" font-size="12.5" fill="#7d7d7d" textLength="22" lengthAdjust="spacingAndGlyphs" >1.50</text>
<text transform="translate(871 409) rotate(-90)" x="-11" y="4.5" font-size="12.5" fill="#7d7d7d" textLength="22" lengthAdjust="spacingAndGlyphs" >1.87</text>
<text transform="translate(1032.4 432.5) rotate(-90)" x="-11" y="4.5" font-size="12.5" fill="#7d7d7d" textLength="22" lengthAdjust="spacingAndGlyphs" >3.00</text>
<text transform="translate(906 517.8) rotate(90)" x="-11" y="4.5" font-size="12.5" fill="#7d7d7d" textLength="22" lengthAdjust="spacingAndGlyphs" >0.60</text>
<text transform="translate(1032.4 610.3) rotate(90)" x="-11" y="4.5" font-size="12.5" fill="#7d7d7d" textLength="22" lengthAdjust="spacingAndGlyphs" >4.57</text>
<text transform="translate(1243.6 566.6) rotate(-90)" x="-11" y="4.5" font-size="12.5" fill="#7d7d7d" textLength="22" lengthAdjust="spacingAndGlyphs" >6.86</text>
<text transform="translate(1310.5 563.75) rotate(90)" x="-11" y="4.5" font-size="12.5" fill="#7d7d7d" textLength="22" lengthAdjust="spacingAndGlyphs" >6.93</text>
<defs><pattern id="hat3" width="7.6" height="7.6" patternUnits="userSpaceOnUse" patternTransform="rotate(18)"><rect width="7.6" height="7.6" fill="#fff"/><rect width="0.7" height="7.6" fill="#a2a2a2"/></pattern></defs>
<rect x="89" y="755" width="44.75" height="290" fill="url(#hat3)" stroke="none" stroke-width="1" />
<line x1="113.3" y1="755" x2="113.3" y2="1045" stroke="#888" stroke-width="0.8" />
<line x1="90" y1="932" x2="123" y2="932" stroke="#222" stroke-width="1" stroke-dasharray="3 2"/>
<rect x="133.75" y="755" width="14.45" height="290" fill="#e3e3df" stroke="none" stroke-width="1" />
<line x1="148.2" y1="755" x2="148.2" y2="1045" stroke="#2a2a2a" stroke-width="1.8" />
<line x1="133.9" y1="755" x2="133.9" y2="1045" stroke="#333" stroke-width="1.3" />
<rect x="148" y="788.75" width="334.5" height="3.75" fill="#f2f2f0" stroke="#1a1a1a" stroke-width="1.1" />
<rect x="148" y="1023.75" width="334.5" height="5" fill="#f2f2f0" stroke="#1a1a1a" stroke-width="1.1" />
<rect x="232.5" y="792.5" width="6.5" height="92.5" fill="#f2f2f0" stroke="#1a1a1a" stroke-width="1.1" />
<rect x="324.5" y="792.5" width="6.5" height="92.5" fill="#f2f2f0" stroke="#1a1a1a" stroke-width="1.1" />
<rect x="421.25" y="792.5" width="3.75" height="92.5" fill="#f2f2f0" stroke="#1a1a1a" stroke-width="1.1" />
<rect x="148" y="880.8" width="49.6" height="4.4" fill="#f2f2f0" stroke="#1a1a1a" stroke-width="1.1" />
<rect x="231.4" y="880.8" width="57.3" height="4.4" fill="#f2f2f0" stroke="#1a1a1a" stroke-width="1.1" />
<rect x="322.5" y="880.8" width="12" height="4.4" fill="#f2f2f0" stroke="#1a1a1a" stroke-width="1.1" />
<rect x="371" y="880.8" width="54" height="4.4" fill="#f2f2f0" stroke="#1a1a1a" stroke-width="1.1" />
<rect x="148" y="931" width="49.6" height="4.4" fill="#f2f2f0" stroke="#1a1a1a" stroke-width="1.1" />
<rect x="231.4" y="931" width="57.3" height="4.4" fill="#f2f2f0" stroke="#1a1a1a" stroke-width="1.1" />
<rect x="322.5" y="931" width="12" height="4.4" fill="#f2f2f0" stroke="#1a1a1a" stroke-width="1.1" />
<rect x="371" y="931" width="54" height="4.4" fill="#f2f2f0" stroke="#1a1a1a" stroke-width="1.1" />
<rect x="232.5" y="935" width="6.5" height="88.75" fill="#f2f2f0" stroke="#1a1a1a" stroke-width="1.1" />
<rect x="324.5" y="935" width="6.5" height="88.75" fill="#f2f2f0" stroke="#1a1a1a" stroke-width="1.1" />
<rect x="421.25" y="935" width="3.75" height="88.75" fill="#f2f2f0" stroke="#1a1a1a" stroke-width="1.1" />
<rect x="466" y="788.75" width="6.5" height="235" fill="#f2f2f0" stroke="#1a1a1a" stroke-width="1.1" />
<rect x="468.2" y="796" width="2.2" height="224" fill="#fff" stroke="#444" stroke-width="0.6" />
<rect x="472.5" y="796" width="10" height="3" fill="#f2f2f0" stroke="#1a1a1a" stroke-width="1.1" />
<path d="M196 882A35 35 0 0 1 231 847" fill="none" stroke="#8e8e8e" stroke-width="0.7" />
<line x1="231" y1="847" x2="231" y2="882" stroke="#777" stroke-width="0.9" />
<path d="M288 882A35 35 0 0 1 323 847" fill="none" stroke="#8e8e8e" stroke-width="0.7" />
<line x1="323" y1="847" x2="323" y2="882" stroke="#777" stroke-width="0.9" />
<path d="M369 882A35 35 0 0 0 334 847" fill="none" stroke="#8e8e8e" stroke-width="0.7" />
<line x1="334" y1="847" x2="334" y2="882" stroke="#777" stroke-width="0.9" />
<path d="M196 934A35 35 0 0 0 231 969" fill="none" stroke="#8e8e8e" stroke-width="0.7" />
<line x1="231" y1="934" x2="231" y2="969" stroke="#777" stroke-width="0.9" />
<path d="M288 934A35 35 0 0 0 323 969" fill="none" stroke="#8e8e8e" stroke-width="0.7" />
<line x1="323" y1="934" x2="323" y2="969" stroke="#777" stroke-width="0.9" />
<path d="M369 934A35 35 0 0 1 334 969" fill="none" stroke="#8e8e8e" stroke-width="0.7" />
<line x1="334" y1="934" x2="334" y2="969" stroke="#777" stroke-width="0.9" />
<path d="M425 831.5A39 39 0 0 0 464 792.5" fill="none" stroke="#8e8e8e" stroke-width="0.7" />
<line x1="425" y1="792.5" x2="425" y2="831.5" stroke="#777" stroke-width="0.9" />
<rect x="149" y="935.8" width="87.6" height="85" fill="none" stroke="#a3d2d6" stroke-width="3.4" />
<line x1="148" y1="803.5" x2="235" y2="803.5" stroke="#8a8a8a" stroke-width="0.7" />
<line x1="145" y1="806.5" x2="151" y2="800.5" stroke="#8a8a8a" stroke-width="0.7" />
<line x1="232" y1="806.5" x2="238" y2="800.5" stroke="#8a8a8a" stroke-width="0.7" />
<line x1="238.75" y1="803.5" x2="326.25" y2="803.5" stroke="#8a8a8a" stroke-width="0.7" />
<line x1="235.75" y1="806.5" x2="241.75" y2="800.5" stroke="#8a8a8a" stroke-width="0.7" />
<line x1="323.25" y1="806.5" x2="329.25" y2="800.5" stroke="#8a8a8a" stroke-width="0.7" />
<line x1="330" y1="803.5" x2="421.25" y2="803.5" stroke="#8a8a8a" stroke-width="0.7" />
<line x1="327" y1="806.5" x2="333" y2="800.5" stroke="#8a8a8a" stroke-width="0.7" />
<line x1="418.25" y1="806.5" x2="424.25" y2="800.5" stroke="#8a8a8a" stroke-width="0.7" />
<line x1="425" y1="803.5" x2="466" y2="803.5" stroke="#8a8a8a" stroke-width="0.7" />
<line x1="422" y1="806.5" x2="428" y2="800.5" stroke="#8a8a8a" stroke-width="0.7" />
<line x1="463" y1="806.5" x2="469" y2="800.5" stroke="#8a8a8a" stroke-width="0.7" />
<line x1="148" y1="875" x2="195" y2="875" stroke="#8a8a8a" stroke-width="0.7" />
<line x1="145" y1="878" x2="151" y2="872" stroke="#8a8a8a" stroke-width="0.7" />
<line x1="192" y1="878" x2="198" y2="872" stroke="#8a8a8a" stroke-width="0.7" />
<line x1="238.75" y1="875" x2="285" y2="875" stroke="#8a8a8a" stroke-width="0.7" />
<line x1="235.75" y1="878" x2="241.75" y2="872" stroke="#8a8a8a" stroke-width="0.7" />
<line x1="282" y1="878" x2="288" y2="872" stroke="#8a8a8a" stroke-width="0.7" />
<line x1="371" y1="875" x2="421.25" y2="875" stroke="#8a8a8a" stroke-width="0.7" />
<line x1="368" y1="878" x2="374" y2="872" stroke="#8a8a8a" stroke-width="0.7" />
<line x1="418.25" y1="878" x2="424.25" y2="872" stroke="#8a8a8a" stroke-width="0.7" />
<line x1="148" y1="893.5" x2="466" y2="893.5" stroke="#8a8a8a" stroke-width="0.7" />
<line x1="145" y1="896.5" x2="151" y2="890.5" stroke="#8a8a8a" stroke-width="0.7" />
<line x1="463" y1="896.5" x2="469" y2="890.5" stroke="#8a8a8a" stroke-width="0.7" />
<line x1="161" y1="792.5" x2="161" y2="1023.75" stroke="#8a8a8a" stroke-width="0.7" />
<line x1="158" y1="795.5" x2="164" y2="789.5" stroke="#8a8a8a" stroke-width="0.7" />
<line x1="158" y1="1026.75" x2="164" y2="1020.75" stroke="#8a8a8a" stroke-width="0.7" />
<line x1="321" y1="792.5" x2="321" y2="881" stroke="#8a8a8a" stroke-width="0.7" />
<line x1="318" y1="795.5" x2="324" y2="789.5" stroke="#8a8a8a" stroke-width="0.7" />
<line x1="318" y1="884" x2="324" y2="878" stroke="#8a8a8a" stroke-width="0.7" />
<line x1="321" y1="935" x2="321" y2="1023.75" stroke="#8a8a8a" stroke-width="0.7" />
<line x1="318" y1="938" x2="324" y2="932" stroke="#8a8a8a" stroke-width="0.7" />
<line x1="318" y1="1026.75" x2="324" y2="1020.75" stroke="#8a8a8a" stroke-width="0.7" />
<line x1="458.75" y1="792.5" x2="458.75" y2="1023.75" stroke="#8a8a8a" stroke-width="0.7" />
<line x1="455.75" y1="795.5" x2="461.75" y2="789.5" stroke="#8a8a8a" stroke-width="0.7" />
<line x1="455.75" y1="1026.75" x2="461.75" y2="1020.75" stroke="#8a8a8a" stroke-width="0.7" />
<line x1="148" y1="942.5" x2="195" y2="942.5" stroke="#8a8a8a" stroke-width="0.7" />
<line x1="145" y1="945.5" x2="151" y2="939.5" stroke="#8a8a8a" stroke-width="0.7" />
<line x1="192" y1="945.5" x2="198" y2="939.5" stroke="#8a8a8a" stroke-width="0.7" />
<line x1="238.75" y1="942.5" x2="288" y2="942.5" stroke="#8a8a8a" stroke-width="0.7" />
<line x1="235.75" y1="945.5" x2="241.75" y2="939.5" stroke="#8a8a8a" stroke-width="0.7" />
<line x1="285" y1="945.5" x2="291" y2="939.5" stroke="#8a8a8a" stroke-width="0.7" />
<line x1="371" y1="942.5" x2="421.25" y2="942.5" stroke="#8a8a8a" stroke-width="0.7" />
<line x1="368" y1="945.5" x2="374" y2="939.5" stroke="#8a8a8a" stroke-width="0.7" />
<line x1="418.25" y1="945.5" x2="424.25" y2="939.5" stroke="#8a8a8a" stroke-width="0.7" />
<line x1="148" y1="1017.5" x2="235" y2="1017.5" stroke="#8a8a8a" stroke-width="0.7" />
<line x1="145" y1="1020.5" x2="151" y2="1014.5" stroke="#8a8a8a" stroke-width="0.7" />
<line x1="232" y1="1020.5" x2="238" y2="1014.5" stroke="#8a8a8a" stroke-width="0.7" />
<line x1="238.75" y1="1017.5" x2="326.25" y2="1017.5" stroke="#8a8a8a" stroke-width="0.7" />
<line x1="235.75" y1="1020.5" x2="241.75" y2="1014.5" stroke="#8a8a8a" stroke-width="0.7" />
<line x1="323.25" y1="1020.5" x2="329.25" y2="1014.5" stroke="#8a8a8a" stroke-width="0.7" />
<line x1="330" y1="1017.5" x2="421.25" y2="1017.5" stroke="#8a8a8a" stroke-width="0.7" />
<line x1="327" y1="1020.5" x2="333" y2="1014.5" stroke="#8a8a8a" stroke-width="0.7" />
<line x1="418.25" y1="1020.5" x2="424.25" y2="1014.5" stroke="#8a8a8a" stroke-width="0.7" />
<line x1="148" y1="1037.5" x2="482" y2="1037.5" stroke="#8a8a8a" stroke-width="0.7" />
<line x1="145" y1="1040.5" x2="151" y2="1034.5" stroke="#8a8a8a" stroke-width="0.7" />
<line x1="479" y1="1040.5" x2="485" y2="1034.5" stroke="#8a8a8a" stroke-width="0.7" />
<line x1="173" y1="1028.75" x2="173" y2="1045" stroke="#888" stroke-width="0.7" />
<line x1="283" y1="1028.75" x2="283" y2="1045" stroke="#888" stroke-width="0.7" />
<line x1="395" y1="1028.75" x2="395" y2="1045" stroke="#888" stroke-width="0.7" />
<line x1="263" y1="1028.75" x2="263" y2="1046" stroke="#5b9ab5" stroke-width="0.8" />
<line x1="372" y1="1028.75" x2="372" y2="1046" stroke="#5b9ab5" stroke-width="0.8" />
<text x="181.25" y="807.5" font-size="12.5" fill="#7d7d7d" textLength="21.25" lengthAdjust="spacingAndGlyphs" >1.91</text>
<text x="272.5" y="807.5" font-size="12.5" fill="#7d7d7d" textLength="21.25" lengthAdjust="spacingAndGlyphs" >1.90</text>
<text x="363.75" y="807.5" font-size="12.5" fill="#7d7d7d" textLength="21.25" lengthAdjust="spacingAndGlyphs" >1.90</text>
<text x="435" y="807.5" font-size="12.5" fill="#7d7d7d" textLength="21.25" lengthAdjust="spacingAndGlyphs" >1.00</text>
<text x="177.5" y="825" font-size="12.6" fill="#1a1a1a" textLength="41.25" lengthAdjust="spacingAndGlyphs" >3.67 m²</text>
<text x="177.5" y="840" font-size="12.6" fill="#1a1a1a" textLength="20" lengthAdjust="spacingAndGlyphs" >T12</text>
<text x="262.5" y="825" font-size="12.6" fill="#1a1a1a" textLength="41.25" lengthAdjust="spacingAndGlyphs" >3.66 m²</text>
<text x="262.5" y="840" font-size="12.6" fill="#1a1a1a" textLength="18.75" lengthAdjust="spacingAndGlyphs" >T11</text>
<text x="368.75" y="825.5" font-size="12.6" fill="#1a1a1a" textLength="41.25" lengthAdjust="spacingAndGlyphs" >3.67 m²</text>
<text x="368.75" y="840" font-size="12.6" fill="#1a1a1a" textLength="20" lengthAdjust="spacingAndGlyphs" >T10</text>
<text x="161" y="878.75" font-size="12.5" fill="#7d7d7d" textLength="20" lengthAdjust="spacingAndGlyphs" >1.01</text>
<text x="252.5" y="878.75" font-size="12.5" fill="#7d7d7d" textLength="20" lengthAdjust="spacingAndGlyphs" >1.00</text>
<text x="385" y="878.75" font-size="12.5" fill="#7d7d7d" textLength="20" lengthAdjust="spacingAndGlyphs" >1.01</text>
<text x="297.5" y="897.5" font-size="12.5" fill="#7d7d7d" textLength="21.25" lengthAdjust="spacingAndGlyphs" >7.01</text>
<text transform="translate(161 836) rotate(90)" x="-11" y="4.5" font-size="12.5" fill="#7d7d7d" textLength="22" lengthAdjust="spacingAndGlyphs" >1.92</text>
<text transform="translate(321 836) rotate(-90)" x="-11" y="4.5" font-size="12.5" fill="#7d7d7d" textLength="22" lengthAdjust="spacingAndGlyphs" >1.92</text>
<text transform="translate(161 908.75) rotate(-90)" x="-11" y="4.5" font-size="12.5" fill="#7d7d7d" textLength="22" lengthAdjust="spacingAndGlyphs" >1.00</text>
<text transform="translate(458.75 908.75) rotate(-90)" x="-11" y="4.5" font-size="12.5" fill="#7d7d7d" textLength="22" lengthAdjust="spacingAndGlyphs" >5.05</text>
<text x="160" y="946.25" font-size="12.5" fill="#7d7d7d" textLength="21" lengthAdjust="spacingAndGlyphs" >1.00</text>
<text x="252.5" y="946.25" font-size="12.5" fill="#7d7d7d" textLength="21.25" lengthAdjust="spacingAndGlyphs" >1.00</text>
<text x="385" y="946.25" font-size="12.5" fill="#7d7d7d" textLength="21" lengthAdjust="spacingAndGlyphs" >1.00</text>
<text transform="translate(161 980) rotate(-90)" x="-11" y="4.5" font-size="12.5" fill="#7d7d7d" textLength="22" lengthAdjust="spacingAndGlyphs" >1.92</text>
<text transform="translate(321 980) rotate(90)" x="-11" y="4.5" font-size="12.5" fill="#7d7d7d" textLength="22" lengthAdjust="spacingAndGlyphs" >1.93</text>
<text x="167.5" y="1000" font-size="12.6" fill="#1a1a1a" textLength="41.25" lengthAdjust="spacingAndGlyphs" >3.67 m²</text>
<text x="167.5" y="1015" font-size="12.6" fill="#1a1a1a" textLength="20" lengthAdjust="spacingAndGlyphs" >T13</text>
<text x="181" y="1021.25" font-size="12.5" fill="#7d7d7d" textLength="21.5" lengthAdjust="spacingAndGlyphs" >1.91</text>
<text x="266.25" y="998.75" font-size="12.6" fill="#1a1a1a" textLength="40" lengthAdjust="spacingAndGlyphs" >3.66 m²</text>
<text x="266" y="1013.75" font-size="12.6" fill="#1a1a1a" textLength="19" lengthAdjust="spacingAndGlyphs" >T14</text>
<text x="272.5" y="1021.75" font-size="12.5" fill="#7d7d7d" textLength="21.25" lengthAdjust="spacingAndGlyphs" >1.90</text>
<text x="355" y="997.5" font-size="12.6" fill="#1a1a1a" textLength="41.25" lengthAdjust="spacingAndGlyphs" >3.66 m²</text>
<text x="355" y="1012.5" font-size="12.6" fill="#1a1a1a" textLength="20" lengthAdjust="spacingAndGlyphs" >T15</text>
<text x="363.75" y="1021.75" font-size="12.5" fill="#7d7d7d" textLength="21.25" lengthAdjust="spacingAndGlyphs" >1.90</text>
<text x="333.75" y="1041.25" font-size="12.5" fill="#7d7d7d" textLength="21.25" lengthAdjust="spacingAndGlyphs" >8.61</text>
<text x="476" y="807.5" font-size="12.5" fill="#7d7d7d" textLength="6.5" lengthAdjust="spacingAndGlyphs" >1</text>
<rect x="618" y="884.8" width="243" height="12.5" fill="#e7e7e5" stroke="none" stroke-width="1" />
<line x1="618" y1="897.8" x2="861" y2="897.8" stroke="#1a1a1a" stroke-width="1.4" />
<rect x="621" y="898.5" width="6.3" height="109.5" fill="#e4e4e2" stroke="none" stroke-width="1" />
<line x1="620.3" y1="897.8" x2="620.3" y2="1002" stroke="#1a1a1a" stroke-width="1.5" />
<line x1="618" y1="1002" x2="620.3" y2="1002" stroke="#1a1a1a" stroke-width="1.3" />
<line x1="618" y1="1009" x2="627" y2="1009" stroke="#1a1a1a" stroke-width="1.2" />
<rect x="629" y="905.3" width="226.3" height="109.9" fill="#fff" stroke="#a3d2d6" stroke-width="3.4" />
<rect x="627" y="903.3" width="230.3" height="113.9" fill="none" stroke="#dff3f5" stroke-width="1" />
<line x1="631" y1="926.25" x2="853.5" y2="926.25" stroke="#5f9fb8" stroke-width="0.9" />
<line x1="653.4" y1="907" x2="653.4" y2="1013.5" stroke="#5f9fb8" stroke-width="0.9" />
<line x1="857" y1="1017" x2="857" y2="1034" stroke="#aaa" stroke-width="0.7" />
<text transform="translate(741.4 926.25) rotate(180)" x="-18" y="6.48" font-size="18" fill="#5f9fb8" textLength="36" lengthAdjust="spacingAndGlyphs" >5.00</text>
<text transform="translate(653.4 962) rotate(-90)" x="-18" y="6.48" font-size="18" fill="#5f9fb8" textLength="36" lengthAdjust="spacingAndGlyphs" >2.40</text>
<text x="702.3" y="968" font-size="12.6" fill="#1a1a1a" textLength="48.2" lengthAdjust="spacingAndGlyphs" >12.00 m²</text>
<text x="702.3" y="982.5" font-size="12.6" fill="#1a1a1a" textLength="28.7" lengthAdjust="spacingAndGlyphs" >PG09</text>
<circle cx="397.7" cy="1093" r="20.5" fill="#fff" stroke="#222" stroke-width="0.9" />
<line x1="386" y1="1077" x2="397.7" y2="1093" stroke="#111" stroke-width="3" />
<path d="M776.5 1110V1118.75H821.8V1110H867.5V1118.75H913.2V1110H959.4V1118.75H1005.5V1110" fill="none" stroke="#333" stroke-width="0.9" />
<text x="774.5" y="1107.5" font-size="10" fill="#222" textLength="5" lengthAdjust="spacingAndGlyphs" >0</text>
<text x="1002" y="1107.5" font-size="10" fill="#222" textLength="5" lengthAdjust="spacingAndGlyphs" >5</text>
<text x="741.5" y="1118.5" font-size="10.5" fill="#222" textLength="29.9" lengthAdjust="spacingAndGlyphs" >1/100</text>
<text x="929.3" y="1025" font-size="14.7" fill="#151515" textLength="52.4" lengthAdjust="spacingAndGlyphs"  stroke="#151515" stroke-width="0.35" stroke-linejoin="round">GARAGE</text>
<text x="990.7" y="1025" font-size="14.7" fill="#151515" textLength="26.1" lengthAdjust="spacingAndGlyphs"  stroke="#151515" stroke-width="0.35" stroke-linejoin="round">AND</text>
<text x="1027" y="1025" font-size="14.7" fill="#151515" textLength="59.5" lengthAdjust="spacingAndGlyphs"  stroke="#151515" stroke-width="0.35" stroke-linejoin="round">STORAGE</text>
<text x="1096.1" y="1025" font-size="14.7" fill="#151515" textLength="38.9" lengthAdjust="spacingAndGlyphs"  stroke="#151515" stroke-width="0.35" stroke-linejoin="round">ROOM</text>
<text x="929.6" y="1041.5" font-size="13.4" fill="#c6cacc" textLength="26.3" lengthAdjust="spacingAndGlyphs"  stroke="#c6cacc" stroke-width="0.15" stroke-linejoin="round">Plaza</text>
<text x="964.9" y="1041.5" font-size="13.4" fill="#c6cacc" textLength="11.4" lengthAdjust="spacingAndGlyphs"  stroke="#c6cacc" stroke-width="0.15" stroke-linejoin="round">de</text>
<text x="985.9" y="1041.5" font-size="13.4" fill="#c6cacc" textLength="31.1" lengthAdjust="spacingAndGlyphs"  stroke="#c6cacc" stroke-width="0.15" stroke-linejoin="round">garaje</text>
<text x="1026.6" y="1041.5" font-size="13.4" fill="#c6cacc" textLength="4.8" lengthAdjust="spacingAndGlyphs"  stroke="#c6cacc" stroke-width="0.15" stroke-linejoin="round">y</text>
<text x="1040.4" y="1041.5" font-size="13.4" fill="#c6cacc" textLength="38.9" lengthAdjust="spacingAndGlyphs"  stroke="#c6cacc" stroke-width="0.15" stroke-linejoin="round">trastero</text>
<text x="1203.8" y="989.4" font-size="24" fill="#111" textLength="46.5" lengthAdjust="spacingAndGlyphs" >Block</text>
<line x1="1263.8" y1="993" x2="1271" y2="971.8" stroke="#222" stroke-width="1.4" />
<text x="1284" y="989.4" font-size="24" fill="#a9d5d8" textLength="58" lengthAdjust="spacingAndGlyphs" >Bloque</text>
<text x="1364.7" y="989.4" font-size="24" fill="#a9d5d8" textLength="11.3" lengthAdjust="spacingAndGlyphs" >A</text>
<text x="1146" y="1099" font-size="22.5" fill="#a9d5d8" textLength="21" lengthAdjust="spacingAndGlyphs" >PB</text>
<rect x="1232.5" y="1099.06" width="172.5" height="20.63" fill="#fff" stroke="#222" stroke-width="1" />
<line x1="1231" y1="1120.63" x2="1435" y2="1120.63" stroke="#222" stroke-width="1.6" />
<line x1="1304.69" y1="1099.06" x2="1304.69" y2="1119.69" stroke="#222" stroke-width="1" />
<line x1="1347.81" y1="1099.06" x2="1347.81" y2="1119.69" stroke="#222" stroke-width="1" />
<line x1="1402.19" y1="1100.94" x2="1402.19" y2="1119.69" stroke="#222" stroke-width="0.8" />
<line x1="1435" y1="1120.63" x2="1435" y2="1115" stroke="#222" stroke-width="1.2" />
<line x1="1431.25" y1="1114.06" x2="1431.25" y2="1120.63" stroke="#222" stroke-width="0.8" />
<rect x="1196.5" y="1084.63" width="36" height="14.44" fill="#fff" stroke="#222" stroke-width="1" />
<rect x="1377.81" y="1084.63" width="36.56" height="14.44" fill="#fff" stroke="#222" stroke-width="1" />
<rect x="1232.5" y="1076.56" width="145.31" height="20.06" fill="#fff" stroke="#222" stroke-width="1" />
<line x1="1196.5" y1="1096.63" x2="1414.38" y2="1096.63" stroke="#222" stroke-width="1" />
<line x1="1196.5" y1="1099.06" x2="1414.38" y2="1099.06" stroke="#222" stroke-width="1.3" />
<line x1="1275.25" y1="1076.56" x2="1275.25" y2="1096.63" stroke="#222" stroke-width="1.3" />
<line x1="1302.25" y1="1076.56" x2="1302.25" y2="1096.63" stroke="#222" stroke-width="1.3" />
<line x1="1207.19" y1="1080.31" x2="1222.19" y2="1077.13" stroke="#222" stroke-width="0.8" />
<line x1="1386.25" y1="1077.13" x2="1401.25" y2="1080.31" stroke="#222" stroke-width="0.8" />
<line x1="1217.5" y1="1092.5" x2="1217.5" y2="1096.63" stroke="#222" stroke-width="1.4" />
<line x1="1413.44" y1="1089.69" x2="1413.44" y2="1096.63" stroke="#222" stroke-width="2" />
<rect x="1218.44" y="1061.56" width="24.38" height="12.56" fill="#fff" stroke="#222" stroke-width="1" />
<rect x="1363.75" y="1061.56" width="28.13" height="12.56" fill="#fff" stroke="#222" stroke-width="1" />
<rect x="1242.81" y="1053.13" width="120.94" height="21" fill="#fff" stroke="#222" stroke-width="1" />
<line x1="1278.44" y1="1053.13" x2="1278.44" y2="1074.13" stroke="#222" stroke-width="1.3" />
<line x1="1290.25" y1="1053.13" x2="1290.25" y2="1074.13" stroke="#222" stroke-width="0.8" />
<line x1="1311.25" y1="1053.13" x2="1311.25" y2="1074.13" stroke="#222" stroke-width="0.8" />
<line x1="1218.44" y1="1075.25" x2="1391.88" y2="1075.25" stroke="#222" stroke-width="0.9" />
<line x1="1219.38" y1="1058.38" x2="1233.44" y2="1055" stroke="#222" stroke-width="0.8" />
<line x1="1373.13" y1="1055" x2="1388.13" y2="1058.38" stroke="#222" stroke-width="0.8" />
<line x1="1217.5" y1="1068.13" x2="1217.5" y2="1074.13" stroke="#222" stroke-width="2.2" />
<line x1="1391.5" y1="1068.13" x2="1391.5" y2="1074.13" stroke="#222" stroke-width="2.2" />
<rect x="1229.69" y="1038.13" width="26.25" height="12.19" fill="#fff" stroke="#222" stroke-width="1" />
<rect x="1348.75" y="1038.13" width="28.13" height="12.19" fill="#fff" stroke="#222" stroke-width="1" />
<rect x="1255.94" y="1030.25" width="92.81" height="20.06" fill="#fff" stroke="#222" stroke-width="1" />
<line x1="1285.56" y1="1030.25" x2="1285.56" y2="1050.31" stroke="#222" stroke-width="1.5" />
<line x1="1306.56" y1="1030.25" x2="1306.56" y2="1050.31" stroke="#222" stroke-width="0.8" />
<line x1="1300" y1="1030.25" x2="1326.25" y2="1050.31" stroke="#222" stroke-width="1" />
<line x1="1302.81" y1="1030.25" x2="1323.44" y2="1047.5" stroke="#222" stroke-width="0.8" />
<line x1="1229.69" y1="1051.44" x2="1376.88" y2="1051.44" stroke="#222" stroke-width="0.9" />
<line x1="1230.63" y1="1037.19" x2="1244.69" y2="1034" stroke="#222" stroke-width="0.8" />
<line x1="1357.19" y1="1034" x2="1372.19" y2="1037.19" stroke="#222" stroke-width="0.8" />
<line x1="1228.75" y1="1045.63" x2="1228.75" y2="1051.25" stroke="#222" stroke-width="2.2" />
<line x1="1377.81" y1="1044.69" x2="1377.81" y2="1050.31" stroke="#222" stroke-width="2.2" />
<line x1="1242.81" y1="1032.5" x2="1255.94" y2="1032.5" stroke="#222" stroke-width="1.2" />
<rect x="1277.13" y="1005.31" width="46.31" height="21.94" fill="#fff" stroke="#222" stroke-width="1" />
<line x1="1279.38" y1="1007.19" x2="1321.56" y2="1007.19" stroke="#222" stroke-width="0.8" />
<line x1="1279.38" y1="1007.19" x2="1279.38" y2="1027.25" stroke="#222" stroke-width="0.8" />
<line x1="1321.56" y1="1007.19" x2="1321.56" y2="1027.25" stroke="#222" stroke-width="0.8" />
<line x1="1255" y1="1025.94" x2="1277.13" y2="1025.94" stroke="#222" stroke-width="0.8" />
<line x1="1323.44" y1="1025" x2="1347.81" y2="1025" stroke="#222" stroke-width="0.8" />
<line x1="1255.94" y1="1022.19" x2="1255.94" y2="1027.25" stroke="#222" stroke-width="1.8" />
<line x1="1346.88" y1="1024.06" x2="1346.88" y2="1027.81" stroke="#222" stroke-width="2" />
<line x1="1324.38" y1="1009.63" x2="1344.06" y2="1013.75" stroke="#222" stroke-width="0.8" />
<path d="M1182.81 1094.38V1087.81H1454.69V1094.38" fill="none" stroke="#a3d2d6" stroke-width="1.3" />
<path d="M1563.33 932.91 L1526.42 1001.45 L1550.15 1025.18 L1592.33 1079.66 L1606.39 1104.26 L1618.69 1140.29" fill="none" stroke="#9fd3d6" stroke-width="1.1" />
<path d="M1618.69 1140.29 L1679.06 1120.86 L1717.03 1103.28 L1728.28 1092.03 L1732.5 1076.56 L1737.42 1034.38 L1736.72 996.41 L1733.2 974.61 L1728.28 957.73 L1624.22 1013.28" fill="none" stroke="#9fd3d6" stroke-width="1.1" />
<path d="M1563.33 932.91 L1599.36 983 L1627.48 1025.18 L1643.91 1051.25 L1666.41 1090.63 L1680.47 1118.75" fill="none" stroke="#9fd3d6" stroke-width="3.4" stroke-linejoin="round"/>
<path d="M1557.18 959.27 L1582.66 968.06 L1592.33 980.36 L1587.93 990.91 L1551.03 976.85 Z" fill="none" stroke="#3a3a3a" stroke-width="0.9" />
<path d="M1557.18 981.24 L1600.24 997.06 L1594.09 1014.63 L1551.91 997.93 Z" fill="none" stroke="#3a3a3a" stroke-width="0.9" />
<path d="M1566.85 1006.72 L1609.9 1021.66 L1602.87 1039.24 L1560.69 1022.54 Z" fill="none" stroke="#3a3a3a" stroke-width="0.9" />
<path d="M1579.15 1032.21 L1622.21 1048.02 L1615.18 1066.48 L1573 1049.78 Z" fill="none" stroke="#3a3a3a" stroke-width="0.9" />
<path d="M1551.03 964.54 L1544 964.54 L1544 983.88 L1538.73 1003.21 L1565.97 1012.87" fill="none" stroke="#555" stroke-width="0.6" />
<path d="M1565.97 1012.87 L1552.79 1016.39 L1550.15 1023.42 L1573 1048.02" fill="none" stroke="#555" stroke-width="0.6" />
<path d="M1552.79 1011.12 L1555.42 1019.9 L1576.51 1037.48" fill="none" stroke="#555" stroke-width="0.6" />
<path d="M1574.75 1053.3 L1594.09 1080.54" fill="none" stroke="#777" stroke-width="1.8" />
<path d="M1597.6 1063.84 L1597.6 1069.11 L1606.39 1074.38 L1609.02 1065.6" fill="none" stroke="#555" stroke-width="0.6" />
<path d="M1622.21 1048.02 L1629.24 1033.96 L1638.02 1007.6 L1659.99 995.3" fill="none" stroke="#555" stroke-width="0.6" />
<path d="M1592.33 1079.66 L1606.39 1088.44 L1613.42 1093.72" fill="none" stroke="#555" stroke-width="0.6" />
<path d="M1610.78 1079.66 L1615.18 1075.62 L1620.8 1080.54 L1616.41 1084.58 Z" fill="#666" stroke="none" stroke-width="0.8" />
<path d="M1606.04 1085.81 L1610.43 1081.77 L1616.05 1086.69 L1611.66 1090.73 Z" fill="#666" stroke="none" stroke-width="0.8" />
<path d="M1613.42 1096.35 L1617.81 1099.87 L1616.05 1101.63 L1612.01 1098.11 Z" fill="none" stroke="#5a9aa0" stroke-width="0.7" />
<path d="M1622.21 1090.2 L1636.27 1077.9 L1667.11 1103.28 L1657.97 1116.64 Z" fill="#9bd2d4" stroke="none" stroke-width="1" />
<path d="M1606.39 1104.26 L1622.21 1090.2 L1636.27 1076.14 L1645.05 1069.11" fill="none" stroke="#9fd3d6" stroke-width="0.9" />
<path d="M1606.39 1104.26 L1610.78 1114.81 L1613.42 1113.93 L1616.05 1120.08 L1618.69 1119.2 L1620.45 1127.11 L1630.99 1134.14 L1636.27 1130.62 L1638.02 1133.26 L1648.57 1118.32" fill="none" stroke="#9fd3d6" stroke-width="1" />
<path d="M1627.48 1070.87 L1636.27 1068.23 L1645.05 1075.26 L1652.08 1070.87" fill="none" stroke="#555" stroke-width="0.6" />
<path d="M1660.08 1010.47 L1670.63 1019.61 L1653.75 1041.41 L1642.5 1032.97 Z" fill="none" stroke="#3a3a3a" stroke-width="1" />
<path d="M1668.52 998.52 L1679.06 1006.25 L1674.84 1011.88 L1664.3 1004.14 Z" fill="none" stroke="#555" stroke-width="0.6" />
<path d="M1632.66 1023.13 L1639.69 1006.25 L1666.41 995 L1680.47 1005.55 L1687.5 996.41 L1693.13 985.16" fill="none" stroke="#555" stroke-width="0.6" />
<path d="M1696.64 980.23 L1704.38 976.02 L1706.49 977.42 L1710 972.5 L1712.81 973.91 L1720.55 968.28 L1726.88 973.91 L1731.1 980.23 L1733.91 989.38 L1725.47 1002.74 Z" fill="none" stroke="#3a3a3a" stroke-width="0.9" />
<path d="M1681.88 995 L1690.31 983.75 L1725.47 1003.44 L1723.36 1026.64 L1717.03 1020.31" fill="none" stroke="#3a3a3a" stroke-width="0.9" />
<path d="M1681.88 995 L1723.36 1026.64 L1712.81 1042.81" fill="none" stroke="#3a3a3a" stroke-width="0.9" />
<path d="M1672.74 1042.81 L1680.47 1028.75 L1715.63 1053.36 L1707.19 1067.42 Z" fill="none" stroke="#3a3a3a" stroke-width="0.9" />
<path d="M1666.41 1061.1 L1675.55 1048.44 L1709.3 1070.94 L1700.86 1087.11 Z" fill="none" stroke="#3a3a3a" stroke-width="0.9" />
<path d="M1668.52 1083.6 L1675.55 1074.46 L1706.49 1093.44 L1696.64 1108.21 L1688.91 1110.32 L1681.88 1104.69 L1676.25 1096.25 L1672.03 1090.63 Z" fill="none" stroke="#3a3a3a" stroke-width="0.9" />
<path d="M1679.77 1018.91 L1729.69 1056.88" fill="none" stroke="#444" stroke-width="0.7" />
<path d="M1676.25 1023.13 L1728.28 1070.94" fill="none" stroke="#444" stroke-width="0.7" />
<path d="M1676.25 1023.13 L1663.59 1047.03 L1672.03 1054.06 L1657.97 1066.72 L1670.63 1077.97" fill="none" stroke="#555" stroke-width="0.6" />
<path d="M1648.13 1117.35 L1656.56 1124.38 L1666.41 1120.86" fill="none" stroke="#444" stroke-width="0.7" />
<path d="M1657.97 1116.64 L1666.41 1123.67" fill="none" stroke="#444" stroke-width="0.7" />
</svg>
</body></html>
